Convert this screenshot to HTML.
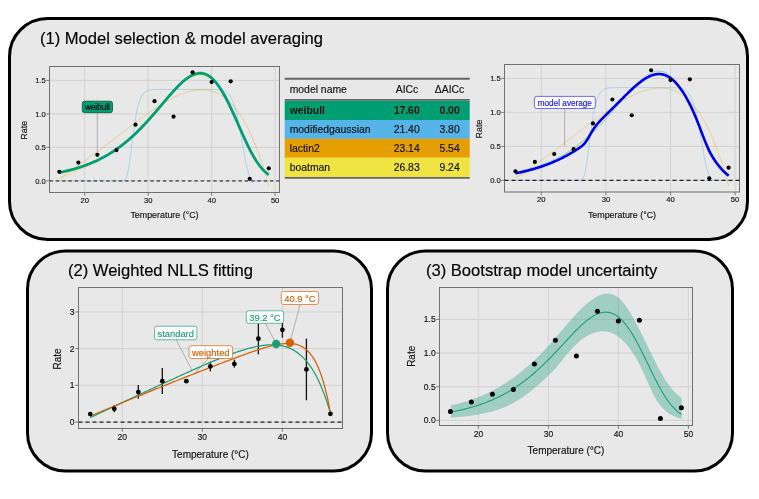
<!DOCTYPE html>
<html><head><meta charset="utf-8"><style>
html,body{margin:0;padding:0;background:#fff;width:759px;height:499px;overflow:hidden}
svg{display:block;will-change:transform}
text{font-family:"Liberation Sans", sans-serif}
</style></head><body>
<svg width="759" height="499" viewBox="0 0 759 499">
<rect x="9.5" y="18.5" width="738" height="221" rx="38" ry="38" fill="#e8e8e8" stroke="#000" stroke-width="3"/>
<rect x="27.5" y="251.0" width="344" height="220.0" rx="38" ry="38" fill="#e8e8e8" stroke="#000" stroke-width="3"/>
<rect x="387.5" y="251.0" width="345" height="220.0" rx="38" ry="38" fill="#e8e8e8" stroke="#000" stroke-width="3"/>
<text x="39.9" y="43.9" font-size="16.6" text-anchor="start" fill="#000" font-weight="normal" stroke="#000" stroke-width="0.15" >(1) Model selection &amp; model averaging</text>
<text x="67.9" y="275.8" font-size="16.6" text-anchor="start" fill="#000" font-weight="normal" stroke="#000" stroke-width="0.15" >(2) Weighted NLLS fitting</text>
<text x="425.9" y="275.8" font-size="16.6" text-anchor="start" fill="#000" font-weight="normal" stroke="#000" stroke-width="0.15" >(3) Bootstrap model uncertainty</text>
<defs>
<clipPath id="cpA"><rect x="49.5" y="66.5" width="230" height="126"/></clipPath>
<clipPath id="cpB"><rect x="504.5" y="64.5" width="235" height="127.5"/></clipPath>
</defs>
<rect x="49.5" y="66.5" width="230.0" height="126.0" fill="#e8e8e8"/>
<line x1="84.70" y1="66.5" x2="84.70" y2="192.5" stroke="#cfcfcf" stroke-width="0.9"/>
<line x1="148.17" y1="66.5" x2="148.17" y2="192.5" stroke="#cfcfcf" stroke-width="0.9"/>
<line x1="211.64" y1="66.5" x2="211.64" y2="192.5" stroke="#cfcfcf" stroke-width="0.9"/>
<line x1="275.11" y1="66.5" x2="275.11" y2="192.5" stroke="#cfcfcf" stroke-width="0.9"/>
<line x1="49.5" y1="180.80" x2="279.5" y2="180.80" stroke="#cfcfcf" stroke-width="0.9"/>
<line x1="49.5" y1="147.34" x2="279.5" y2="147.34" stroke="#cfcfcf" stroke-width="0.9"/>
<line x1="49.5" y1="113.87" x2="279.5" y2="113.87" stroke="#cfcfcf" stroke-width="0.9"/>
<line x1="49.5" y1="80.41" x2="279.5" y2="80.41" stroke="#cfcfcf" stroke-width="0.9"/>
<rect x="49.5" y="66.5" width="230.0" height="126.0" fill="none" stroke="#707070" stroke-width="1"/>
<line x1="84.70" y1="192.5" x2="84.70" y2="195.8" stroke="#707070" stroke-width="0.9"/>
<text x="84.70" y="202.80" font-size="7.6" text-anchor="middle" fill="#111" font-weight="normal" stroke="#111" stroke-width="0.15" >20</text>
<line x1="148.17" y1="192.5" x2="148.17" y2="195.8" stroke="#707070" stroke-width="0.9"/>
<text x="148.17" y="202.80" font-size="7.6" text-anchor="middle" fill="#111" font-weight="normal" stroke="#111" stroke-width="0.15" >30</text>
<line x1="211.64" y1="192.5" x2="211.64" y2="195.8" stroke="#707070" stroke-width="0.9"/>
<text x="211.64" y="202.80" font-size="7.6" text-anchor="middle" fill="#111" font-weight="normal" stroke="#111" stroke-width="0.15" >40</text>
<line x1="275.11" y1="192.5" x2="275.11" y2="195.8" stroke="#707070" stroke-width="0.9"/>
<text x="275.11" y="202.80" font-size="7.6" text-anchor="middle" fill="#111" font-weight="normal" stroke="#111" stroke-width="0.15" >50</text>
<line x1="46.2" y1="180.80" x2="49.5" y2="180.80" stroke="#707070" stroke-width="0.9"/>
<text x="45.70" y="183.50" font-size="7.6" text-anchor="end" fill="#111" font-weight="normal" stroke="#111" stroke-width="0.15" >0.0</text>
<line x1="46.2" y1="147.34" x2="49.5" y2="147.34" stroke="#707070" stroke-width="0.9"/>
<text x="45.70" y="150.03" font-size="7.6" text-anchor="end" fill="#111" font-weight="normal" stroke="#111" stroke-width="0.15" >0.5</text>
<line x1="46.2" y1="113.87" x2="49.5" y2="113.87" stroke="#707070" stroke-width="0.9"/>
<text x="45.70" y="116.57" font-size="7.6" text-anchor="end" fill="#111" font-weight="normal" stroke="#111" stroke-width="0.15" >1.0</text>
<line x1="46.2" y1="80.41" x2="49.5" y2="80.41" stroke="#707070" stroke-width="0.9"/>
<text x="45.70" y="83.11" font-size="7.6" text-anchor="end" fill="#111" font-weight="normal" stroke="#111" stroke-width="0.15" >1.5</text>
<text x="164.50" y="218.0" font-size="8.9" text-anchor="middle" fill="#111" font-weight="normal" stroke="#111" stroke-width="0.15" >Temperature (°C)</text>
<text x="0" y="0" font-size="8.9" text-anchor="middle" fill="#111" stroke="#111" stroke-width="0.15" transform="translate(26.9,130.30) rotate(-90)">Rate</text>
<path d="M59.31,180.80 L59.84,180.80 L60.36,180.80 L60.89,180.80 L61.41,180.80 L61.94,180.80 L62.46,180.80 L62.99,180.80 L63.51,180.80 L64.04,180.80 L64.56,180.80 L65.09,180.80 L65.61,180.80 L66.14,180.80 L66.66,180.80 L67.19,180.80 L67.71,180.80 L68.24,180.80 L68.76,180.80 L69.29,180.80 L69.81,180.80 L70.34,180.80 L70.86,180.80 L71.39,180.80 L71.91,180.80 L72.44,180.80 L72.96,180.80 L73.49,180.80 L74.01,180.80 L74.54,180.80 L75.06,180.80 L75.59,180.80 L76.11,180.80 L76.64,180.80 L77.16,180.80 L77.68,180.80 L78.21,180.80 L78.73,180.80 L79.26,180.80 L79.78,180.80 L80.31,180.80 L80.83,180.80 L81.36,180.80 L81.88,180.80 L82.41,180.80 L82.93,180.80 L83.46,180.80 L83.98,180.80 L84.51,180.80 L85.03,180.80 L85.56,180.80 L86.08,180.80 L86.61,180.80 L87.13,180.80 L87.66,180.80 L88.18,180.80 L88.71,180.80 L89.23,180.80 L89.76,180.80 L90.28,180.80 L90.81,180.80 L91.33,180.80 L91.86,180.80 L92.38,180.80 L92.91,180.80 L93.43,180.80 L93.96,180.80 L94.48,180.80 L95.01,180.80 L95.53,180.80 L96.06,180.80 L96.58,180.80 L97.11,180.80 L97.63,180.80 L98.16,180.80 L98.68,180.80 L99.21,180.80 L99.73,180.80 L100.26,180.80 L100.78,180.80 L101.31,180.80 L101.83,180.80 L102.36,180.80 L102.88,180.80 L103.41,180.80 L103.93,180.80 L104.46,180.80 L104.98,180.80 L105.51,180.80 L106.03,180.80 L106.56,180.80 L107.08,180.80 L107.61,180.80 L108.13,180.80 L108.66,180.80 L109.18,180.80 L109.71,180.80 L110.23,180.80 L110.76,180.80 L111.28,180.80 L111.81,180.80 L112.33,180.80 L112.86,180.80 L113.38,180.80 L113.91,180.80 L114.43,180.80 L114.96,180.80 L115.48,180.80 L116.01,180.80 L116.53,180.80 L117.06,180.80 L117.58,180.80 L118.11,180.80 L118.63,180.80 L119.16,180.80 L119.68,180.80 L120.21,180.80 L120.73,180.80 L121.25,180.79 L121.78,180.78 L122.30,180.76 L122.83,180.70 L123.35,180.61 L123.88,180.43 L124.40,180.15 L124.93,179.71 L125.45,179.06 L125.98,178.15 L126.50,176.93 L127.03,175.35 L127.55,173.39 L128.08,171.04 L128.60,168.30 L129.13,165.20 L129.65,161.77 L130.18,158.07 L130.70,154.15 L131.23,150.08 L131.75,145.93 L132.28,141.76 L132.80,137.63 L133.33,133.59 L133.85,129.69 L134.38,125.95 L134.90,122.42 L135.43,119.09 L135.95,116.00 L136.48,113.13 L137.00,110.50 L137.53,108.10 L138.05,105.92 L138.58,103.94 L139.10,102.17 L139.63,100.58 L140.15,99.17 L140.68,97.91 L141.20,96.79 L141.73,95.81 L142.25,94.94 L142.78,94.19 L143.30,93.52 L143.83,92.94 L144.35,92.44 L144.88,92.00 L145.40,91.63 L145.93,91.30 L146.45,91.02 L146.98,90.78 L147.50,90.57 L148.03,90.39 L148.55,90.24 L149.08,90.11 L149.60,90.00 L150.13,89.91 L150.65,89.83 L151.18,89.76 L151.70,89.71 L152.23,89.66 L152.75,89.62 L153.28,89.59 L153.80,89.56 L154.33,89.54 L154.85,89.52 L155.38,89.51 L155.90,89.49 L156.43,89.48 L156.95,89.48 L157.48,89.47 L158.00,89.46 L158.53,89.46 L159.05,89.45 L159.58,89.45 L160.10,89.45 L160.63,89.45 L161.15,89.45 L161.68,89.44 L162.20,89.44 L162.73,89.44 L163.25,89.44 L163.78,89.44 L164.30,89.44 L164.82,89.44 L165.35,89.44 L165.87,89.44 L166.40,89.44 L166.92,89.44 L167.45,89.44 L167.97,89.44 L168.50,89.44 L169.02,89.44 L169.55,89.44 L170.07,89.44 L170.60,89.44 L171.12,89.44 L171.65,89.44 L172.17,89.44 L172.70,89.44 L173.22,89.44 L173.75,89.44 L174.27,89.44 L174.80,89.44 L175.32,89.44 L175.85,89.44 L176.37,89.44 L176.90,89.44 L177.42,89.44 L177.95,89.44 L178.47,89.44 L179.00,89.44 L179.52,89.44 L180.05,89.44 L180.57,89.44 L181.10,89.44 L181.62,89.44 L182.15,89.44 L182.67,89.44 L183.20,89.44 L183.72,89.44 L184.25,89.44 L184.77,89.44 L185.30,89.44 L185.82,89.44 L186.35,89.44 L186.87,89.44 L187.40,89.44 L187.92,89.44 L188.45,89.44 L188.97,89.44 L189.50,89.44 L190.02,89.44 L190.55,89.44 L191.07,89.44 L191.60,89.44 L192.12,89.44 L192.65,89.44 L193.17,89.44 L193.70,89.44 L194.22,89.44 L194.75,89.44 L195.27,89.44 L195.80,89.44 L196.32,89.44 L196.85,89.44 L197.37,89.44 L197.90,89.44 L198.42,89.44 L198.95,89.44 L199.47,89.44 L200.00,89.44 L200.52,89.44 L201.05,89.44 L201.57,89.44 L202.10,89.44 L202.62,89.44 L203.15,89.44 L203.67,89.44 L204.20,89.44 L204.72,89.44 L205.25,89.44 L205.77,89.44 L206.30,89.44 L206.82,89.44 L207.35,89.44 L207.87,89.45 L208.39,89.45 L208.92,89.45 L209.44,89.45 L209.97,89.45 L210.49,89.46 L211.02,89.46 L211.54,89.47 L212.07,89.47 L212.59,89.48 L213.12,89.49 L213.64,89.50 L214.17,89.51 L214.69,89.53 L215.22,89.54 L215.74,89.56 L216.27,89.59 L216.79,89.62 L217.32,89.65 L217.84,89.69 L218.37,89.74 L218.89,89.79 L219.42,89.86 L219.94,89.93 L220.47,90.01 L220.99,90.11 L221.52,90.22 L222.04,90.34 L222.57,90.49 L223.09,90.65 L223.62,90.84 L224.14,91.05 L224.67,91.29 L225.19,91.55 L225.72,91.86 L226.24,92.20 L226.77,92.58 L227.29,93.00 L227.82,93.48 L228.34,94.01 L228.87,94.59 L229.39,95.25 L229.92,95.97 L230.44,96.76 L230.97,97.64 L231.49,98.60 L232.02,99.65 L232.54,100.81 L233.07,102.06 L233.59,103.42 L234.12,104.90 L234.64,106.50 L235.17,108.21 L235.69,110.06 L236.22,112.03 L236.74,114.13 L237.27,116.36 L237.79,118.71 L238.32,121.19 L238.84,123.79 L239.37,126.49 L239.89,129.30 L240.42,132.20 L240.94,135.16 L241.47,138.19 L241.99,141.25 L242.52,144.32 L243.04,147.39 L243.57,150.43 L244.09,153.41 L244.62,156.31 L245.14,159.10 L245.67,161.76 L246.19,164.27 L246.72,166.61 L247.24,168.76 L247.77,170.72 L248.29,172.48 L248.82,174.03 L249.34,175.37 L249.87,176.52 L250.39,177.49 L250.92,178.29 L251.44,178.93 L251.96,179.44 L252.49,179.83 L253.01,180.13 L253.54,180.34 L254.06,180.50 L254.59,180.61 L255.11,180.68 L255.64,180.73 L256.16,180.76 L256.69,180.78 L257.21,180.79 L257.74,180.79 L258.26,180.80 L258.79,180.80 L259.31,180.80 L259.84,180.80 L260.36,180.80 L260.89,180.80 L261.41,180.80 L261.94,180.80 L262.46,180.80 L262.99,180.80 L263.51,180.80 L264.04,180.80 L264.56,180.80 L265.09,180.80 L265.61,180.80 L266.14,180.80 L266.66,180.80 L267.19,180.80 L267.71,180.80 L268.24,180.80 L268.76,180.80" fill="none" stroke="#56B4E9" stroke-width="0.9" stroke-opacity="0.45" stroke-linejoin="round" clip-path="url(#cpA)"/>
<path d="M59.31,178.63 L60.36,177.93 L61.42,177.24 L62.47,176.54 L63.52,175.83 L64.57,175.12 L65.63,174.41 L66.68,173.70 L67.73,172.98 L68.78,172.26 L69.84,171.54 L70.89,170.81 L71.94,170.08 L72.99,169.34 L74.05,168.61 L75.10,167.87 L76.15,167.13 L77.20,166.38 L78.26,165.63 L79.31,164.88 L80.36,164.13 L81.41,163.37 L82.47,162.61 L83.52,161.85 L84.57,161.08 L85.62,160.32 L86.68,159.55 L87.73,158.77 L88.78,158.00 L89.84,157.22 L90.89,156.44 L91.94,155.66 L92.99,154.87 L94.05,154.09 L95.10,153.30 L96.15,152.51 L97.20,151.72 L98.26,150.92 L99.31,150.13 L100.36,149.33 L101.41,148.53 L102.47,147.73 L103.52,146.93 L104.57,146.13 L105.62,145.32 L106.68,144.52 L107.73,143.71 L108.78,142.90 L109.83,142.10 L110.89,141.29 L111.94,140.48 L112.99,139.67 L114.04,138.86 L115.10,138.04 L116.15,137.23 L117.20,136.42 L118.25,135.61 L119.31,134.80 L120.36,133.99 L121.41,133.18 L122.46,132.37 L123.52,131.56 L124.57,130.75 L125.62,129.95 L126.67,129.14 L127.73,128.34 L128.78,127.53 L129.83,126.73 L130.88,125.93 L131.94,125.14 L132.99,124.34 L134.04,123.55 L135.09,122.76 L136.15,121.97 L137.20,121.18 L138.25,120.40 L139.30,119.62 L140.36,118.85 L141.41,118.08 L142.46,117.31 L143.51,116.55 L144.57,115.79 L145.62,115.03 L146.67,114.28 L147.72,113.54 L148.78,112.80 L149.83,112.07 L150.88,111.34 L151.93,110.62 L152.99,109.90 L154.04,109.19 L155.09,108.49 L156.14,107.79 L157.20,107.11 L158.25,106.43 L159.30,105.76 L160.35,105.09 L161.41,104.44 L162.46,103.79 L163.51,103.15 L164.56,102.53 L165.62,101.91 L166.67,101.30 L167.72,100.71 L168.77,100.12 L169.83,99.55 L170.88,98.99 L171.93,98.44 L172.98,97.90 L174.04,97.37 L175.09,96.86 L176.14,96.37 L177.19,95.88 L178.25,95.41 L179.30,94.96 L180.35,94.52 L181.40,94.10 L182.46,93.69 L183.51,93.31 L184.56,92.93 L185.61,92.58 L186.67,92.25 L187.72,91.93 L188.77,91.63 L189.82,91.36 L190.88,91.10 L191.93,90.86 L192.98,90.65 L194.03,90.46 L195.09,90.29 L196.14,90.14 L197.19,90.02 L198.24,89.93 L199.30,89.85 L200.35,89.81 L201.40,89.79 L202.45,89.80 L203.51,89.83 L204.56,89.90 L205.61,89.99 L206.66,90.12 L207.72,90.27 L208.77,90.46 L209.82,90.68 L210.87,90.93 L211.93,91.22 L212.98,91.54 L214.03,91.89 L215.08,92.29 L216.14,92.72 L217.19,93.18 L218.24,93.69 L219.29,94.24 L220.35,94.83 L221.40,95.46 L222.45,96.13 L223.50,96.84 L224.56,97.60 L225.61,98.41 L226.66,99.26 L227.71,100.16 L228.77,101.11 L229.82,102.11 L230.87,103.16 L231.92,104.27 L232.98,105.42 L234.03,106.63 L235.08,107.90 L236.13,109.22 L237.19,110.60 L238.24,112.04 L239.29,113.54 L240.35,115.11 L241.40,116.73 L242.45,118.42 L243.50,120.18 L244.56,122.00 L245.61,123.89 L246.66,125.86 L247.71,127.89 L248.77,130.00 L249.82,132.18 L250.87,134.44 L251.92,136.77 L252.98,139.19 L254.03,141.68 L255.08,144.26 L256.13,146.92 L257.19,149.67 L258.24,152.51 L259.29,155.44 L260.34,158.45 L261.40,161.56 L262.45,164.77 L263.50,168.07 L264.55,171.47 L265.61,174.98 L266.66,178.58 L267.71,182.29 L268.76,186.11" fill="none" stroke="#E69F00" stroke-width="0.9" stroke-opacity="0.4" stroke-linejoin="round" clip-path="url(#cpA)"/>
<path d="M59.31,178.59 L60.36,178.10 L61.42,177.61 L62.47,177.13 L63.52,176.66 L64.57,176.19 L65.63,175.73 L66.68,175.27 L67.73,174.82 L68.78,174.36 L69.84,173.91 L70.89,173.46 L71.94,173.02 L72.99,172.57 L74.05,172.12 L75.10,171.67 L76.15,171.23 L77.20,170.78 L78.26,170.32 L79.31,169.87 L80.36,169.41 L81.41,168.95 L82.47,168.49 L83.52,168.02 L84.57,167.55 L85.62,167.07 L86.68,166.59 L87.73,166.10 L88.78,165.60 L89.84,165.10 L90.89,164.59 L91.94,164.07 L92.99,163.54 L94.05,163.01 L95.10,162.47 L96.15,161.91 L97.20,161.35 L98.26,160.78 L99.31,160.20 L100.36,159.61 L101.41,159.00 L102.47,158.39 L103.52,157.76 L104.57,157.12 L105.62,156.47 L106.68,155.81 L107.73,155.13 L108.78,154.44 L109.83,153.74 L110.89,153.02 L111.94,152.29 L112.99,151.55 L114.04,150.79 L115.10,150.01 L116.15,149.22 L117.20,148.42 L118.25,147.60 L119.31,146.76 L120.36,145.91 L121.41,145.05 L122.46,144.17 L123.52,143.28 L124.57,142.37 L125.62,141.44 L126.67,140.50 L127.73,139.55 L128.78,138.58 L129.83,137.59 L130.88,136.60 L131.94,135.59 L132.99,134.56 L134.04,133.53 L135.09,132.48 L136.15,131.42 L137.20,130.35 L138.25,129.26 L139.30,128.17 L140.36,127.06 L141.41,125.95 L142.46,124.83 L143.51,123.70 L144.57,122.56 L145.62,121.41 L146.67,120.26 L147.72,119.10 L148.78,117.94 L149.83,116.78 L150.88,115.61 L151.93,114.44 L152.99,113.26 L154.04,112.09 L155.09,110.91 L156.14,109.73 L157.20,108.56 L158.25,107.39 L159.30,106.22 L160.35,105.05 L161.41,103.89 L162.46,102.73 L163.51,101.58 L164.56,100.44 L165.62,99.30 L166.67,98.17 L167.72,97.06 L168.77,95.95 L169.83,94.85 L170.88,93.77 L171.93,92.70 L172.98,91.65 L174.04,90.62 L175.09,89.60 L176.14,88.60 L177.19,87.62 L178.25,86.67 L179.30,85.73 L180.35,84.83 L181.40,83.95 L182.46,83.10 L183.51,82.28 L184.56,81.49 L185.61,80.74 L186.67,80.03 L187.72,79.35 L188.77,78.72 L189.82,78.13 L190.88,77.59 L191.93,77.09 L192.98,76.65 L194.03,76.26 L195.09,75.92 L196.14,75.64 L197.19,75.43 L198.24,75.27 L199.30,75.18 L200.35,75.16 L201.40,75.21 L202.45,75.33 L203.51,75.52 L204.56,75.79 L205.61,76.14 L206.66,76.57 L207.72,77.07 L208.77,77.66 L209.82,78.34 L210.87,79.10 L211.93,79.94 L212.98,80.87 L214.03,81.88 L215.08,82.98 L216.14,84.16 L217.19,85.43 L218.24,86.79 L219.29,88.22 L220.35,89.74 L221.40,91.33 L222.45,93.01 L223.50,94.75 L224.56,96.57 L225.61,98.46 L226.66,100.41 L227.71,102.42 L228.77,104.49 L229.82,106.62 L230.87,108.79 L231.92,111.00 L232.98,113.25 L234.03,115.53 L235.08,117.84 L236.13,120.17 L237.19,122.52 L238.24,124.87 L239.29,127.23 L240.35,129.58 L241.40,131.93 L242.45,134.26 L243.50,136.57 L244.56,138.85 L245.61,141.10 L246.66,143.31 L247.71,145.48 L248.77,147.60 L249.82,149.67 L250.87,151.68 L251.92,153.63 L252.98,155.51 L254.03,157.33 L255.08,159.07 L256.13,160.74 L257.19,162.34 L258.24,163.85 L259.29,165.29 L260.34,166.66 L261.40,167.94 L262.45,169.14 L263.50,170.27 L264.55,171.32 L265.61,172.30 L266.66,173.20 L267.71,174.03 L268.76,174.80" fill="none" stroke="#E8D84A" stroke-width="0.9" stroke-opacity="0.7" stroke-linejoin="round" clip-path="url(#cpA)"/>
<line x1="49.5" y1="180.80" x2="279.5" y2="180.80" stroke="#666" stroke-width="1.7" stroke-dasharray="3.4,2.9"/>
<line x1="97.3" y1="112.7" x2="97.39" y2="152.83" stroke="#888" stroke-width="0.6"/>
<path d="M59.31,172.57 L60.36,172.36 L61.42,172.14 L62.47,171.91 L63.52,171.68 L64.57,171.44 L65.63,171.20 L66.68,170.95 L67.73,170.70 L68.78,170.44 L69.84,170.17 L70.89,169.90 L71.94,169.61 L72.99,169.33 L74.05,169.03 L75.10,168.73 L76.15,168.42 L77.20,168.10 L78.26,167.78 L79.31,167.45 L80.36,167.11 L81.41,166.76 L82.47,166.40 L83.52,166.03 L84.57,165.66 L85.62,165.28 L86.68,164.88 L87.73,164.48 L88.78,164.07 L89.84,163.65 L90.89,163.22 L91.94,162.78 L92.99,162.33 L94.05,161.87 L95.10,161.40 L96.15,160.91 L97.20,160.42 L98.26,159.92 L99.31,159.40 L100.36,158.87 L101.41,158.34 L102.47,157.78 L103.52,157.22 L104.57,156.65 L105.62,156.06 L106.68,155.46 L107.73,154.85 L108.78,154.22 L109.83,153.58 L110.89,152.93 L111.94,152.26 L112.99,151.58 L114.04,150.89 L115.10,150.18 L116.15,149.46 L117.20,148.72 L118.25,147.97 L119.31,147.21 L120.36,146.43 L121.41,145.63 L122.46,144.82 L123.52,144.00 L124.57,143.16 L125.62,142.30 L126.67,141.43 L127.73,140.55 L128.78,139.65 L129.83,138.73 L130.88,137.80 L131.94,136.85 L132.99,135.89 L134.04,134.92 L135.09,133.92 L136.15,132.92 L137.20,131.90 L138.25,130.86 L139.30,129.81 L140.36,128.75 L141.41,127.67 L142.46,126.58 L143.51,125.47 L144.57,124.35 L145.62,123.22 L146.67,122.08 L147.72,120.93 L148.78,119.76 L149.83,118.58 L150.88,117.40 L151.93,116.20 L152.99,115.00 L154.04,113.78 L155.09,112.56 L156.14,111.33 L157.20,110.10 L158.25,108.86 L159.30,107.62 L160.35,106.38 L161.41,105.13 L162.46,103.88 L163.51,102.64 L164.56,101.39 L165.62,100.15 L166.67,98.92 L167.72,97.69 L168.77,96.46 L169.83,95.25 L170.88,94.05 L171.93,92.86 L172.98,91.68 L174.04,90.52 L175.09,89.38 L176.14,88.26 L177.19,87.16 L178.25,86.09 L179.30,85.04 L180.35,84.02 L181.40,83.03 L182.46,82.08 L183.51,81.15 L184.56,80.27 L185.61,79.43 L186.67,78.63 L187.72,77.87 L188.77,77.16 L189.82,76.51 L190.88,75.90 L191.93,75.35 L192.98,74.86 L194.03,74.42 L195.09,74.05 L196.14,73.75 L197.19,73.51 L198.24,73.34 L199.30,73.24 L200.35,73.21 L201.40,73.26 L202.45,73.39 L203.51,73.60 L204.56,73.89 L205.61,74.26 L206.66,74.71 L207.72,75.25 L208.77,75.88 L209.82,76.59 L210.87,77.39 L211.93,78.28 L212.98,79.26 L214.03,80.32 L215.08,81.47 L216.14,82.71 L217.19,84.04 L218.24,85.44 L219.29,86.94 L220.35,88.51 L221.40,90.16 L222.45,91.89 L223.50,93.69 L224.56,95.56 L225.61,97.50 L226.66,99.51 L227.71,101.57 L228.77,103.69 L229.82,105.86 L230.87,108.08 L231.92,110.33 L232.98,112.63 L234.03,114.95 L235.08,117.30 L236.13,119.67 L237.19,122.05 L238.24,124.44 L239.29,126.83 L240.35,129.22 L241.40,131.59 L242.45,133.95 L243.50,136.28 L244.56,138.59 L245.61,140.86 L246.66,143.09 L247.71,145.28 L248.77,147.42 L249.82,149.51 L250.87,151.53 L251.92,153.49 L252.98,155.39 L254.03,157.22 L255.08,158.97 L256.13,160.65 L257.19,162.26 L258.24,163.78 L259.29,165.23 L260.34,166.60 L261.40,167.89 L262.45,169.10 L263.50,170.23 L264.55,171.29 L265.61,172.27 L266.66,173.17 L267.71,174.01 L268.76,174.78" fill="none" stroke="#009E73" stroke-width="2.8" stroke-opacity="1" stroke-linejoin="round"/>
<circle cx="59.31" cy="171.83" r="2.1" fill="#000"/>
<circle cx="78.35" cy="162.60" r="2.1" fill="#000"/>
<circle cx="97.39" cy="154.83" r="2.1" fill="#000"/>
<circle cx="116.44" cy="150.08" r="2.1" fill="#000"/>
<circle cx="135.48" cy="124.71" r="2.1" fill="#000"/>
<circle cx="154.52" cy="101.15" r="2.1" fill="#000"/>
<circle cx="173.56" cy="116.68" r="2.1" fill="#000"/>
<circle cx="192.60" cy="72.37" r="2.1" fill="#000"/>
<circle cx="211.64" cy="82.08" r="2.1" fill="#000"/>
<circle cx="230.68" cy="81.28" r="2.1" fill="#000"/>
<circle cx="249.72" cy="178.79" r="2.1" fill="#000"/>
<circle cx="268.76" cy="168.28" r="2.1" fill="#000"/>
<rect x="82.3" y="101.2" width="30.200000000000003" height="11.5" rx="2.2" ry="2.2" fill="#009E73" stroke="#00573f" stroke-width="0.9" stroke-opacity="0.9"/>
<text x="97.40" y="109.95" font-size="8.2" text-anchor="middle" fill="#000" font-weight="normal" stroke="#000" stroke-width="0.15" >weibull</text>
<rect x="504.5" y="64.5" width="235.0" height="127.5" fill="#e8e8e8"/>
<line x1="541.30" y1="64.5" x2="541.30" y2="192" stroke="#cfcfcf" stroke-width="0.9"/>
<line x1="605.90" y1="64.5" x2="605.90" y2="192" stroke="#cfcfcf" stroke-width="0.9"/>
<line x1="670.50" y1="64.5" x2="670.50" y2="192" stroke="#cfcfcf" stroke-width="0.9"/>
<line x1="735.10" y1="64.5" x2="735.10" y2="192" stroke="#cfcfcf" stroke-width="0.9"/>
<line x1="504.5" y1="180.40" x2="739.5" y2="180.40" stroke="#cfcfcf" stroke-width="0.9"/>
<line x1="504.5" y1="146.40" x2="739.5" y2="146.40" stroke="#cfcfcf" stroke-width="0.9"/>
<line x1="504.5" y1="112.40" x2="739.5" y2="112.40" stroke="#cfcfcf" stroke-width="0.9"/>
<line x1="504.5" y1="78.40" x2="739.5" y2="78.40" stroke="#cfcfcf" stroke-width="0.9"/>
<rect x="504.5" y="64.5" width="235.0" height="127.5" fill="none" stroke="#707070" stroke-width="1"/>
<line x1="541.30" y1="192" x2="541.30" y2="195.3" stroke="#707070" stroke-width="0.9"/>
<text x="541.30" y="202.30" font-size="7.6" text-anchor="middle" fill="#111" font-weight="normal" stroke="#111" stroke-width="0.15" >20</text>
<line x1="605.90" y1="192" x2="605.90" y2="195.3" stroke="#707070" stroke-width="0.9"/>
<text x="605.90" y="202.30" font-size="7.6" text-anchor="middle" fill="#111" font-weight="normal" stroke="#111" stroke-width="0.15" >30</text>
<line x1="670.50" y1="192" x2="670.50" y2="195.3" stroke="#707070" stroke-width="0.9"/>
<text x="670.50" y="202.30" font-size="7.6" text-anchor="middle" fill="#111" font-weight="normal" stroke="#111" stroke-width="0.15" >40</text>
<line x1="735.10" y1="192" x2="735.10" y2="195.3" stroke="#707070" stroke-width="0.9"/>
<text x="735.10" y="202.30" font-size="7.6" text-anchor="middle" fill="#111" font-weight="normal" stroke="#111" stroke-width="0.15" >50</text>
<line x1="501.2" y1="180.40" x2="504.5" y2="180.40" stroke="#707070" stroke-width="0.9"/>
<text x="500.70" y="183.10" font-size="7.6" text-anchor="end" fill="#111" font-weight="normal" stroke="#111" stroke-width="0.15" >0.0</text>
<line x1="501.2" y1="146.40" x2="504.5" y2="146.40" stroke="#707070" stroke-width="0.9"/>
<text x="500.70" y="149.10" font-size="7.6" text-anchor="end" fill="#111" font-weight="normal" stroke="#111" stroke-width="0.15" >0.5</text>
<line x1="501.2" y1="112.40" x2="504.5" y2="112.40" stroke="#707070" stroke-width="0.9"/>
<text x="500.70" y="115.10" font-size="7.6" text-anchor="end" fill="#111" font-weight="normal" stroke="#111" stroke-width="0.15" >1.0</text>
<line x1="501.2" y1="78.40" x2="504.5" y2="78.40" stroke="#707070" stroke-width="0.9"/>
<text x="500.70" y="81.10" font-size="7.6" text-anchor="end" fill="#111" font-weight="normal" stroke="#111" stroke-width="0.15" >1.5</text>
<text x="622.00" y="218.0" font-size="8.9" text-anchor="middle" fill="#111" font-weight="normal" stroke="#111" stroke-width="0.15" >Temperature (°C)</text>
<text x="0" y="0" font-size="8.9" text-anchor="middle" fill="#111" stroke="#111" stroke-width="0.15" transform="translate(481.9,129.05) rotate(-90)">Rate</text>
<path d="M515.46,180.40 L515.99,180.40 L516.53,180.40 L517.06,180.40 L517.60,180.40 L518.13,180.40 L518.67,180.40 L519.20,180.40 L519.73,180.40 L520.27,180.40 L520.80,180.40 L521.34,180.40 L521.87,180.40 L522.41,180.40 L522.94,180.40 L523.47,180.40 L524.01,180.40 L524.54,180.40 L525.08,180.40 L525.61,180.40 L526.15,180.40 L526.68,180.40 L527.21,180.40 L527.75,180.40 L528.28,180.40 L528.82,180.40 L529.35,180.40 L529.89,180.40 L530.42,180.40 L530.95,180.40 L531.49,180.40 L532.02,180.40 L532.56,180.40 L533.09,180.40 L533.63,180.40 L534.16,180.40 L534.69,180.40 L535.23,180.40 L535.76,180.40 L536.30,180.40 L536.83,180.40 L537.37,180.40 L537.90,180.40 L538.43,180.40 L538.97,180.40 L539.50,180.40 L540.04,180.40 L540.57,180.40 L541.11,180.40 L541.64,180.40 L542.17,180.40 L542.71,180.40 L543.24,180.40 L543.78,180.40 L544.31,180.40 L544.85,180.40 L545.38,180.40 L545.91,180.40 L546.45,180.40 L546.98,180.40 L547.52,180.40 L548.05,180.40 L548.59,180.40 L549.12,180.40 L549.65,180.40 L550.19,180.40 L550.72,180.40 L551.26,180.40 L551.79,180.40 L552.33,180.40 L552.86,180.40 L553.39,180.40 L553.93,180.40 L554.46,180.40 L555.00,180.40 L555.53,180.40 L556.07,180.40 L556.60,180.40 L557.13,180.40 L557.67,180.40 L558.20,180.40 L558.74,180.40 L559.27,180.40 L559.81,180.40 L560.34,180.40 L560.87,180.40 L561.41,180.40 L561.94,180.40 L562.48,180.40 L563.01,180.40 L563.55,180.40 L564.08,180.40 L564.61,180.40 L565.15,180.40 L565.68,180.40 L566.22,180.40 L566.75,180.40 L567.29,180.40 L567.82,180.40 L568.35,180.40 L568.89,180.40 L569.42,180.40 L569.96,180.40 L570.49,180.40 L571.03,180.40 L571.56,180.40 L572.09,180.40 L572.63,180.40 L573.16,180.40 L573.70,180.40 L574.23,180.40 L574.77,180.40 L575.30,180.40 L575.83,180.40 L576.37,180.40 L576.90,180.40 L577.44,180.40 L577.97,180.40 L578.51,180.39 L579.04,180.38 L579.57,180.35 L580.11,180.30 L580.64,180.20 L581.18,180.03 L581.71,179.74 L582.25,179.29 L582.78,178.63 L583.31,177.71 L583.85,176.46 L584.38,174.86 L584.92,172.88 L585.45,170.49 L585.99,167.70 L586.52,164.55 L587.05,161.07 L587.59,157.30 L588.12,153.32 L588.66,149.19 L589.19,144.97 L589.73,140.74 L590.26,136.54 L590.79,132.44 L591.33,128.47 L591.86,124.68 L592.40,121.08 L592.93,117.71 L593.47,114.56 L594.00,111.65 L594.53,108.98 L595.07,106.54 L595.60,104.32 L596.14,102.32 L596.67,100.51 L597.21,98.90 L597.74,97.46 L598.27,96.18 L598.81,95.05 L599.34,94.05 L599.88,93.17 L600.41,92.40 L600.95,91.73 L601.48,91.14 L602.01,90.63 L602.55,90.18 L603.08,89.80 L603.62,89.47 L604.15,89.18 L604.69,88.94 L605.22,88.73 L605.75,88.55 L606.29,88.39 L606.82,88.26 L607.36,88.15 L607.89,88.06 L608.43,87.98 L608.96,87.91 L609.49,87.85 L610.03,87.81 L610.56,87.77 L611.10,87.73 L611.63,87.71 L612.17,87.68 L612.70,87.66 L613.23,87.65 L613.77,87.63 L614.30,87.62 L614.84,87.62 L615.37,87.61 L615.91,87.60 L616.44,87.60 L616.97,87.59 L617.51,87.59 L618.04,87.59 L618.58,87.59 L619.11,87.59 L619.65,87.58 L620.18,87.58 L620.71,87.58 L621.25,87.58 L621.78,87.58 L622.32,87.58 L622.85,87.58 L623.39,87.58 L623.92,87.58 L624.45,87.58 L624.99,87.58 L625.52,87.58 L626.06,87.58 L626.59,87.58 L627.13,87.58 L627.66,87.58 L628.19,87.58 L628.73,87.58 L629.26,87.58 L629.80,87.58 L630.33,87.58 L630.87,87.58 L631.40,87.58 L631.93,87.58 L632.47,87.58 L633.00,87.58 L633.54,87.58 L634.07,87.58 L634.61,87.58 L635.14,87.58 L635.67,87.58 L636.21,87.58 L636.74,87.58 L637.28,87.58 L637.81,87.58 L638.35,87.58 L638.88,87.58 L639.41,87.58 L639.95,87.58 L640.48,87.58 L641.02,87.58 L641.55,87.58 L642.09,87.58 L642.62,87.58 L643.15,87.58 L643.69,87.58 L644.22,87.58 L644.76,87.58 L645.29,87.58 L645.83,87.58 L646.36,87.58 L646.89,87.58 L647.43,87.58 L647.96,87.58 L648.50,87.58 L649.03,87.58 L649.57,87.58 L650.10,87.58 L650.63,87.58 L651.17,87.58 L651.70,87.58 L652.24,87.58 L652.77,87.58 L653.31,87.58 L653.84,87.58 L654.37,87.58 L654.91,87.58 L655.44,87.58 L655.98,87.58 L656.51,87.58 L657.05,87.58 L657.58,87.58 L658.11,87.58 L658.65,87.58 L659.18,87.58 L659.72,87.58 L660.25,87.58 L660.79,87.58 L661.32,87.58 L661.85,87.58 L662.39,87.58 L662.92,87.58 L663.46,87.58 L663.99,87.58 L664.53,87.58 L665.06,87.58 L665.59,87.58 L666.13,87.58 L666.66,87.58 L667.20,87.59 L667.73,87.59 L668.27,87.59 L668.80,87.59 L669.33,87.60 L669.87,87.60 L670.40,87.61 L670.94,87.61 L671.47,87.62 L672.01,87.63 L672.54,87.64 L673.07,87.65 L673.61,87.67 L674.14,87.68 L674.68,87.71 L675.21,87.73 L675.75,87.76 L676.28,87.80 L676.81,87.84 L677.35,87.88 L677.88,87.94 L678.42,88.00 L678.95,88.08 L679.49,88.16 L680.02,88.26 L680.55,88.37 L681.09,88.50 L681.62,88.64 L682.16,88.81 L682.69,89.00 L683.23,89.21 L683.76,89.45 L684.29,89.73 L684.83,90.03 L685.36,90.38 L685.90,90.77 L686.43,91.20 L686.97,91.68 L687.50,92.22 L688.03,92.82 L688.57,93.48 L689.10,94.21 L689.64,95.02 L690.17,95.91 L690.71,96.89 L691.24,97.96 L691.77,99.13 L692.31,100.40 L692.84,101.79 L693.38,103.29 L693.91,104.91 L694.45,106.65 L694.98,108.53 L695.51,110.53 L696.05,112.66 L696.58,114.93 L697.12,117.32 L697.65,119.84 L698.19,122.48 L698.72,125.23 L699.25,128.08 L699.79,131.02 L700.32,134.03 L700.86,137.10 L701.39,140.21 L701.93,143.34 L702.46,146.46 L702.99,149.54 L703.53,152.57 L704.06,155.52 L704.60,158.35 L705.13,161.06 L705.67,163.61 L706.20,165.98 L706.73,168.17 L707.27,170.16 L707.80,171.94 L708.34,173.52 L708.87,174.89 L709.41,176.06 L709.94,177.04 L710.47,177.85 L711.01,178.50 L711.54,179.01 L712.08,179.41 L712.61,179.71 L713.15,179.94 L713.68,180.09 L714.21,180.20 L714.75,180.28 L715.28,180.33 L715.82,180.36 L716.35,180.38 L716.89,180.39 L717.42,180.39 L717.95,180.40 L718.49,180.40 L719.02,180.40 L719.56,180.40 L720.09,180.40 L720.63,180.40 L721.16,180.40 L721.69,180.40 L722.23,180.40 L722.76,180.40 L723.30,180.40 L723.83,180.40 L724.37,180.40 L724.90,180.40 L725.43,180.40 L725.97,180.40 L726.50,180.40 L727.04,180.40 L727.57,180.40 L728.11,180.40 L728.64,180.40" fill="none" stroke="#56B4E9" stroke-width="0.9" stroke-opacity="0.45" stroke-linejoin="round" clip-path="url(#cpB)"/>
<path d="M515.46,178.19 L516.53,177.49 L517.60,176.78 L518.67,176.07 L519.75,175.35 L520.82,174.63 L521.89,173.91 L522.96,173.18 L524.03,172.46 L525.10,171.72 L526.17,170.99 L527.24,170.25 L528.32,169.51 L529.39,168.76 L530.46,168.01 L531.53,167.26 L532.60,166.51 L533.67,165.75 L534.74,164.99 L535.81,164.23 L536.89,163.46 L537.96,162.69 L539.03,161.92 L540.10,161.14 L541.17,160.37 L542.24,159.59 L543.31,158.81 L544.38,158.02 L545.46,157.23 L546.53,156.44 L547.60,155.65 L548.67,154.86 L549.74,154.06 L550.81,153.26 L551.88,152.46 L552.95,151.66 L554.03,150.85 L555.10,150.05 L556.17,149.24 L557.24,148.43 L558.31,147.62 L559.38,146.80 L560.45,145.99 L561.52,145.17 L562.60,144.36 L563.67,143.54 L564.74,142.72 L565.81,141.90 L566.88,141.08 L567.95,140.25 L569.02,139.43 L570.09,138.61 L571.17,137.79 L572.24,136.96 L573.31,136.14 L574.38,135.31 L575.45,134.49 L576.52,133.67 L577.59,132.84 L578.66,132.02 L579.74,131.20 L580.81,130.37 L581.88,129.55 L582.95,128.73 L584.02,127.91 L585.09,127.10 L586.16,126.28 L587.23,125.47 L588.31,124.66 L589.38,123.85 L590.45,123.04 L591.52,122.23 L592.59,121.43 L593.66,120.63 L594.73,119.83 L595.80,119.04 L596.88,118.25 L597.95,117.46 L599.02,116.67 L600.09,115.89 L601.16,115.12 L602.23,114.35 L603.30,113.58 L604.37,112.82 L605.45,112.06 L606.52,111.31 L607.59,110.57 L608.66,109.83 L609.73,109.09 L610.80,108.37 L611.87,107.65 L612.94,106.93 L614.02,106.23 L615.09,105.53 L616.16,104.84 L617.23,104.16 L618.30,103.48 L619.37,102.82 L620.44,102.16 L621.51,101.51 L622.59,100.88 L623.66,100.25 L624.73,99.63 L625.80,99.03 L626.87,98.43 L627.94,97.85 L629.01,97.28 L630.08,96.72 L631.16,96.17 L632.23,95.64 L633.30,95.12 L634.37,94.62 L635.44,94.12 L636.51,93.65 L637.58,93.19 L638.65,92.74 L639.73,92.31 L640.80,91.90 L641.87,91.51 L642.94,91.13 L644.01,90.77 L645.08,90.43 L646.15,90.11 L647.22,89.81 L648.30,89.53 L649.37,89.26 L650.44,89.03 L651.51,88.81 L652.58,88.61 L653.65,88.44 L654.72,88.29 L655.79,88.17 L656.87,88.07 L657.94,88.00 L659.01,87.95 L660.08,87.94 L661.15,87.94 L662.22,87.98 L663.29,88.05 L664.36,88.14 L665.44,88.27 L666.51,88.43 L667.58,88.62 L668.65,88.84 L669.72,89.09 L670.79,89.39 L671.86,89.71 L672.93,90.07 L674.01,90.47 L675.08,90.91 L676.15,91.38 L677.22,91.90 L678.29,92.45 L679.36,93.05 L680.43,93.69 L681.50,94.37 L682.58,95.10 L683.65,95.87 L684.72,96.69 L685.79,97.56 L686.86,98.48 L687.93,99.44 L689.00,100.46 L690.07,101.52 L691.15,102.64 L692.22,103.82 L693.29,105.05 L694.36,106.33 L695.43,107.68 L696.50,109.08 L697.57,110.54 L698.64,112.07 L699.72,113.66 L700.79,115.31 L701.86,117.02 L702.93,118.81 L704.00,120.66 L705.07,122.58 L706.14,124.58 L707.21,126.64 L708.29,128.79 L709.36,131.00 L710.43,133.30 L711.50,135.67 L712.57,138.12 L713.64,140.66 L714.71,143.28 L715.78,145.98 L716.86,148.78 L717.93,151.66 L719.00,154.63 L720.07,157.70 L721.14,160.86 L722.21,164.11 L723.28,167.47 L724.35,170.92 L725.43,174.48 L726.50,178.14 L727.57,181.91 L728.64,185.79" fill="none" stroke="#E69F00" stroke-width="0.9" stroke-opacity="0.4" stroke-linejoin="round" clip-path="url(#cpB)"/>
<path d="M515.46,178.16 L516.53,177.65 L517.60,177.16 L518.67,176.67 L519.75,176.19 L520.82,175.72 L521.89,175.25 L522.96,174.78 L524.03,174.32 L525.10,173.86 L526.17,173.40 L527.24,172.95 L528.32,172.49 L529.39,172.04 L530.46,171.58 L531.53,171.13 L532.60,170.67 L533.67,170.22 L534.74,169.76 L535.81,169.30 L536.89,168.83 L537.96,168.36 L539.03,167.89 L540.10,167.42 L541.17,166.94 L542.24,166.45 L543.31,165.96 L544.38,165.46 L545.46,164.96 L546.53,164.45 L547.60,163.93 L548.67,163.40 L549.74,162.87 L550.81,162.33 L551.88,161.77 L552.95,161.21 L554.03,160.64 L555.10,160.06 L556.17,159.47 L557.24,158.87 L558.31,158.26 L559.38,157.63 L560.45,156.99 L561.52,156.35 L562.60,155.68 L563.67,155.01 L564.74,154.32 L565.81,153.62 L566.88,152.91 L567.95,152.18 L569.02,151.44 L570.09,150.68 L571.17,149.91 L572.24,149.12 L573.31,148.32 L574.38,147.50 L575.45,146.67 L576.52,145.82 L577.59,144.96 L578.66,144.08 L579.74,143.18 L580.81,142.28 L581.88,141.35 L582.95,140.41 L584.02,139.46 L585.09,138.49 L586.16,137.50 L587.23,136.50 L588.31,135.49 L589.38,134.46 L590.45,133.42 L591.52,132.37 L592.59,131.31 L593.66,130.23 L594.73,129.14 L595.80,128.04 L596.88,126.93 L597.95,125.80 L599.02,124.67 L600.09,123.53 L601.16,122.38 L602.23,121.23 L603.30,120.06 L604.37,118.89 L605.45,117.72 L606.52,116.54 L607.59,115.35 L608.66,114.17 L609.73,112.97 L610.80,111.78 L611.87,110.59 L612.94,109.39 L614.02,108.20 L615.09,107.01 L616.16,105.81 L617.23,104.63 L618.30,103.44 L619.37,102.26 L620.44,101.08 L621.51,99.91 L622.59,98.75 L623.66,97.60 L624.73,96.45 L625.80,95.32 L626.87,94.19 L627.94,93.08 L629.01,91.98 L630.08,90.90 L631.16,89.83 L632.23,88.77 L633.30,87.74 L634.37,86.72 L635.44,85.73 L636.51,84.76 L637.58,83.81 L638.65,82.89 L639.73,82.00 L640.80,81.14 L641.87,80.30 L642.94,79.51 L644.01,78.74 L645.08,78.02 L646.15,77.33 L647.22,76.69 L648.30,76.09 L649.37,75.54 L650.44,75.04 L651.51,74.58 L652.58,74.19 L653.65,73.85 L654.72,73.56 L655.79,73.34 L656.87,73.19 L657.94,73.10 L659.01,73.07 L660.08,73.12 L661.15,73.24 L662.22,73.44 L663.29,73.71 L664.36,74.07 L665.44,74.50 L666.51,75.02 L667.58,75.62 L668.65,76.30 L669.72,77.07 L670.79,77.93 L671.86,78.87 L672.93,79.90 L674.01,81.02 L675.08,82.22 L676.15,83.51 L677.22,84.88 L678.29,86.34 L679.36,87.88 L680.43,89.50 L681.50,91.20 L682.58,92.98 L683.65,94.83 L684.72,96.74 L685.79,98.73 L686.86,100.77 L687.93,102.87 L689.00,105.03 L690.07,107.23 L691.15,109.48 L692.22,111.77 L693.29,114.09 L694.36,116.43 L695.43,118.80 L696.50,121.18 L697.57,123.58 L698.64,125.97 L699.72,128.36 L700.79,130.75 L701.86,133.12 L702.93,135.46 L704.00,137.78 L705.07,140.07 L706.14,142.31 L707.21,144.52 L708.29,146.67 L709.36,148.77 L710.43,150.81 L711.50,152.79 L712.57,154.71 L713.64,156.55 L714.71,158.32 L715.78,160.02 L716.86,161.64 L717.93,163.18 L719.00,164.65 L720.07,166.03 L721.14,167.33 L722.21,168.56 L723.28,169.70 L724.35,170.77 L725.43,171.76 L726.50,172.68 L727.57,173.53 L728.64,174.30" fill="none" stroke="#E8D84A" stroke-width="0.9" stroke-opacity="0.7" stroke-linejoin="round" clip-path="url(#cpB)"/>
<path d="M515.46,172.04 L516.53,171.82 L517.60,171.60 L518.67,171.37 L519.75,171.13 L520.82,170.89 L521.89,170.65 L522.96,170.39 L524.03,170.14 L525.10,169.87 L526.17,169.60 L527.24,169.32 L528.32,169.04 L529.39,168.74 L530.46,168.44 L531.53,168.14 L532.60,167.82 L533.67,167.50 L534.74,167.17 L535.81,166.83 L536.89,166.49 L537.96,166.13 L539.03,165.77 L540.10,165.40 L541.17,165.02 L542.24,164.63 L543.31,164.23 L544.38,163.82 L545.46,163.40 L546.53,162.98 L547.60,162.54 L548.67,162.09 L549.74,161.63 L550.81,161.17 L551.88,160.69 L552.95,160.20 L554.03,159.70 L555.10,159.18 L556.17,158.66 L557.24,158.12 L558.31,157.58 L559.38,157.02 L560.45,156.44 L561.52,155.86 L562.60,155.26 L563.67,154.65 L564.74,154.03 L565.81,153.39 L566.88,152.74 L567.95,152.08 L569.02,151.40 L570.09,150.71 L571.17,150.01 L572.24,149.29 L573.31,148.56 L574.38,147.81 L575.45,147.05 L576.52,146.27 L577.59,145.48 L578.66,144.67 L579.74,143.85 L580.81,143.01 L581.88,142.16 L582.95,141.29 L584.02,140.40 L585.09,139.50 L586.16,138.59 L587.23,137.66 L588.31,136.71 L589.38,135.75 L590.45,134.77 L591.52,133.78 L592.59,132.78 L593.66,131.75 L594.73,130.72 L595.80,129.66 L596.88,128.60 L597.95,127.52 L599.02,126.42 L600.09,125.31 L601.16,124.19 L602.23,123.05 L603.30,121.90 L604.37,120.74 L605.45,119.57 L606.52,118.38 L607.59,117.19 L608.66,115.98 L609.73,114.77 L610.80,113.54 L611.87,112.31 L612.94,111.07 L614.02,109.82 L615.09,108.57 L616.16,107.31 L617.23,106.05 L618.30,104.79 L619.37,103.52 L620.44,102.25 L621.51,100.99 L622.59,99.72 L623.66,98.46 L624.73,97.21 L625.80,95.96 L626.87,94.72 L627.94,93.48 L629.01,92.26 L630.08,91.05 L631.16,89.86 L632.23,88.68 L633.30,87.52 L634.37,86.38 L635.44,85.27 L636.51,84.17 L637.58,83.11 L638.65,82.07 L639.73,81.07 L640.80,80.10 L641.87,79.16 L642.94,78.26 L644.01,77.41 L645.08,76.59 L646.15,75.83 L647.22,75.11 L648.30,74.44 L649.37,73.82 L650.44,73.26 L651.51,72.76 L652.58,72.32 L653.65,71.95 L654.72,71.64 L655.79,71.39 L656.87,71.22 L657.94,71.12 L659.01,71.09 L660.08,71.15 L661.15,71.28 L662.22,71.49 L663.29,71.78 L664.36,72.16 L665.44,72.62 L666.51,73.17 L667.58,73.80 L668.65,74.53 L669.72,75.34 L670.79,76.24 L671.86,77.24 L672.93,78.32 L674.01,79.49 L675.08,80.74 L676.15,82.09 L677.22,83.52 L678.29,85.03 L679.36,86.63 L680.43,88.31 L681.50,90.07 L682.58,91.90 L683.65,93.80 L684.72,95.77 L685.79,97.81 L686.86,99.90 L687.93,102.06 L689.00,104.26 L690.07,106.51 L691.15,108.81 L692.22,111.14 L693.29,113.50 L694.36,115.89 L695.43,118.29 L696.50,120.71 L697.57,123.14 L698.64,125.57 L699.72,127.99 L700.79,130.40 L701.86,132.80 L702.93,135.17 L704.00,137.51 L705.07,139.82 L706.14,142.09 L707.21,144.32 L708.29,146.49 L709.36,148.60 L710.43,150.66 L711.50,152.66 L712.57,154.58 L713.64,156.44 L714.71,158.22 L715.78,159.93 L716.86,161.56 L717.93,163.11 L719.00,164.58 L720.07,165.97 L721.14,167.28 L722.21,168.51 L723.28,169.66 L724.35,170.73 L725.43,171.73 L726.50,172.65 L727.57,173.50 L728.64,174.28" fill="none" stroke="#009E73" stroke-width="0.9" stroke-opacity="0.4" stroke-linejoin="round" clip-path="url(#cpB)"/>
<line x1="504.5" y1="180.40" x2="739.5" y2="180.40" stroke="#222" stroke-width="1.3" stroke-dasharray="4,3"/>
<line x1="564.6" y1="108.5" x2="564.6" y2="146.3" stroke="#888" stroke-width="0.6"/>
<path d="M515.46,173.38 L515.99,173.27 L516.53,173.16 L517.06,173.05 L517.60,172.94 L518.13,172.83 L518.67,172.71 L519.20,172.60 L519.73,172.48 L520.27,172.36 L520.80,172.24 L521.34,172.12 L521.87,172.00 L522.41,171.88 L522.94,171.76 L523.47,171.63 L524.01,171.50 L524.54,171.38 L525.08,171.25 L525.61,171.12 L526.15,170.98 L526.68,170.85 L527.21,170.71 L527.75,170.58 L528.28,170.44 L528.82,170.30 L529.35,170.16 L529.89,170.02 L530.42,169.87 L530.95,169.73 L531.49,169.58 L532.02,169.43 L532.56,169.28 L533.09,169.13 L533.63,168.98 L534.16,168.82 L534.69,168.66 L535.23,168.51 L535.76,168.35 L536.30,168.18 L536.83,168.02 L537.37,167.85 L537.90,167.69 L538.43,167.52 L538.97,167.35 L539.50,167.18 L540.04,167.00 L540.57,166.82 L541.11,166.65 L541.64,166.47 L542.17,166.28 L542.71,166.10 L543.24,165.92 L543.78,165.73 L544.31,165.54 L544.85,165.35 L545.38,165.15 L545.91,164.96 L546.45,164.76 L546.98,164.56 L547.52,164.36 L548.05,164.15 L548.59,163.95 L549.12,163.74 L549.65,163.53 L550.19,163.32 L550.72,163.10 L551.26,162.89 L551.79,162.67 L552.33,162.44 L552.86,162.22 L553.39,161.99 L553.93,161.77 L554.46,161.54 L555.00,161.30 L555.53,161.07 L556.07,160.83 L556.60,160.59 L557.13,160.35 L557.67,160.10 L558.20,159.85 L558.74,159.60 L559.27,159.35 L559.81,159.10 L560.34,158.84 L560.87,158.58 L561.41,158.32 L561.94,158.05 L562.48,157.78 L563.01,157.51 L563.55,157.24 L564.08,156.96 L564.61,156.68 L565.15,156.40 L565.68,156.12 L566.22,155.83 L566.75,155.54 L567.29,155.25 L567.82,154.95 L568.35,154.66 L568.89,154.36 L569.42,154.05 L569.96,153.75 L570.49,153.44 L571.03,153.12 L571.56,152.81 L572.09,152.49 L572.63,152.17 L573.16,151.85 L573.70,151.52 L574.23,151.19 L574.77,150.86 L575.30,150.52 L575.83,150.18 L576.37,149.84 L576.90,149.49 L577.44,149.15 L577.97,148.80 L578.51,148.44 L579.04,148.08 L579.57,147.72 L580.11,147.35 L580.64,146.97 L581.18,146.58 L581.71,146.17 L582.25,145.74 L582.78,145.28 L583.31,144.78 L583.85,144.25 L584.38,143.66 L584.92,143.03 L585.45,142.34 L585.99,141.60 L586.52,140.82 L587.05,139.99 L587.59,139.12 L588.12,138.22 L588.66,137.30 L589.19,136.37 L589.73,135.43 L590.26,134.49 L590.79,133.57 L591.33,132.65 L591.86,131.75 L592.40,130.88 L592.93,130.03 L593.47,129.20 L594.00,128.40 L594.53,127.63 L595.07,126.88 L595.60,126.15 L596.14,125.45 L596.67,124.77 L597.21,124.11 L597.74,123.47 L598.27,122.85 L598.81,122.24 L599.34,121.64 L599.88,121.06 L600.41,120.48 L600.95,119.92 L601.48,119.36 L602.01,118.81 L602.55,118.27 L603.08,117.73 L603.62,117.20 L604.15,116.66 L604.69,116.14 L605.22,115.61 L605.75,115.08 L606.29,114.56 L606.82,114.03 L607.36,113.51 L607.89,112.98 L608.43,112.46 L608.96,111.94 L609.49,111.41 L610.03,110.88 L610.56,110.36 L611.10,109.83 L611.63,109.30 L612.17,108.77 L612.70,108.24 L613.23,107.71 L613.77,107.18 L614.30,106.65 L614.84,106.11 L615.37,105.58 L615.91,105.04 L616.44,104.51 L616.97,103.97 L617.51,103.43 L618.04,102.90 L618.58,102.36 L619.11,101.82 L619.65,101.29 L620.18,100.75 L620.71,100.21 L621.25,99.67 L621.78,99.14 L622.32,98.60 L622.85,98.07 L623.39,97.53 L623.92,97.00 L624.45,96.47 L624.99,95.94 L625.52,95.41 L626.06,94.88 L626.59,94.36 L627.13,93.83 L627.66,93.31 L628.19,92.79 L628.73,92.28 L629.26,91.76 L629.80,91.25 L630.33,90.74 L630.87,90.24 L631.40,89.74 L631.93,89.24 L632.47,88.74 L633.00,88.25 L633.54,87.77 L634.07,87.29 L634.61,86.81 L635.14,86.34 L635.67,85.87 L636.21,85.41 L636.74,84.95 L637.28,84.50 L637.81,84.06 L638.35,83.62 L638.88,83.19 L639.41,82.77 L639.95,82.35 L640.48,81.94 L641.02,81.53 L641.55,81.14 L642.09,80.75 L642.62,80.37 L643.15,80.00 L643.69,79.64 L644.22,79.28 L644.76,78.94 L645.29,78.60 L645.83,78.28 L646.36,77.96 L646.89,77.66 L647.43,77.36 L647.96,77.08 L648.50,76.80 L649.03,76.54 L649.57,76.29 L650.10,76.05 L650.63,75.82 L651.17,75.61 L651.70,75.41 L652.24,75.22 L652.77,75.04 L653.31,74.88 L653.84,74.73 L654.37,74.59 L654.91,74.47 L655.44,74.37 L655.98,74.27 L656.51,74.20 L657.05,74.13 L657.58,74.09 L658.11,74.05 L658.65,74.04 L659.18,74.04 L659.72,74.05 L660.25,74.08 L660.79,74.13 L661.32,74.20 L661.85,74.28 L662.39,74.38 L662.92,74.49 L663.46,74.63 L663.99,74.78 L664.53,74.95 L665.06,75.13 L665.59,75.34 L666.13,75.56 L666.66,75.80 L667.20,76.06 L667.73,76.34 L668.27,76.64 L668.80,76.95 L669.33,77.28 L669.87,77.64 L670.40,78.01 L670.94,78.40 L671.47,78.81 L672.01,79.24 L672.54,79.68 L673.07,80.15 L673.61,80.63 L674.14,81.14 L674.68,81.66 L675.21,82.20 L675.75,82.76 L676.28,83.34 L676.81,83.94 L677.35,84.55 L677.88,85.19 L678.42,85.84 L678.95,86.52 L679.49,87.21 L680.02,87.92 L680.55,88.65 L681.09,89.39 L681.62,90.16 L682.16,90.94 L682.69,91.74 L683.23,92.56 L683.76,93.40 L684.29,94.26 L684.83,95.13 L685.36,96.03 L685.90,96.94 L686.43,97.87 L686.97,98.82 L687.50,99.79 L688.03,100.78 L688.57,101.79 L689.10,102.81 L689.64,103.86 L690.17,104.93 L690.71,106.01 L691.24,107.12 L691.77,108.25 L692.31,109.40 L692.84,110.57 L693.38,111.75 L693.91,112.96 L694.45,114.20 L694.98,115.45 L695.51,116.72 L696.05,118.01 L696.58,119.32 L697.12,120.65 L697.65,122.00 L698.19,123.36 L698.72,124.74 L699.25,126.13 L699.79,127.53 L700.32,128.94 L700.86,130.35 L701.39,131.77 L701.93,133.18 L702.46,134.60 L702.99,136.00 L703.53,137.39 L704.06,138.77 L704.60,140.13 L705.13,141.47 L705.67,142.79 L706.20,144.08 L706.73,145.34 L707.27,146.57 L707.80,147.78 L708.34,148.96 L708.87,150.13 L709.41,151.40 L709.94,152.42 L710.47,153.41 L711.01,154.37 L711.54,155.30 L712.08,156.21 L712.61,157.09 L713.15,157.94 L713.68,158.78 L714.21,159.59 L714.75,160.39 L715.28,161.16 L715.82,161.93 L716.35,162.67 L716.89,163.40 L717.42,164.11 L717.95,164.81 L718.49,165.50 L719.02,166.16 L719.56,166.82 L720.09,167.45 L720.63,168.08 L721.16,168.68 L721.69,169.28 L722.23,169.85 L722.76,170.42 L723.30,170.96 L723.83,171.50 L724.37,172.02 L724.90,172.52 L725.43,173.01 L725.97,173.49 L726.50,173.95 L727.04,174.40 L727.57,174.83 L728.11,175.26 L728.64,175.67" fill="none" stroke="#0000EE" stroke-width="2.6" stroke-opacity="1" stroke-linejoin="round"/>
<circle cx="515.46" cy="171.29" r="2.1" fill="#000"/>
<circle cx="534.84" cy="161.90" r="2.1" fill="#000"/>
<circle cx="554.22" cy="154.02" r="2.1" fill="#000"/>
<circle cx="573.60" cy="149.19" r="2.1" fill="#000"/>
<circle cx="592.98" cy="123.42" r="2.1" fill="#000"/>
<circle cx="612.36" cy="99.48" r="2.1" fill="#000"/>
<circle cx="631.74" cy="115.26" r="2.1" fill="#000"/>
<circle cx="651.12" cy="70.24" r="2.1" fill="#000"/>
<circle cx="670.50" cy="80.10" r="2.1" fill="#000"/>
<circle cx="689.88" cy="79.28" r="2.1" fill="#000"/>
<circle cx="709.26" cy="178.36" r="2.1" fill="#000"/>
<circle cx="728.64" cy="167.68" r="2.1" fill="#000"/>
<rect x="534.4" y="96.4" width="60.89999999999998" height="12.099999999999994" rx="2.2" ry="2.2" fill="#fff" stroke="#2a2aee" stroke-width="0.8" stroke-opacity="0.85"/>
<text x="564.85" y="105.55" font-size="8.2" text-anchor="middle" fill="#1515ee" font-weight="normal" stroke="#1515ee" stroke-width="0.15" >model average</text>
<line x1="284.7" y1="78.7" x2="469.7" y2="78.7" stroke="#666" stroke-width="2"/>
<text x="289.7" y="93.0" font-size="10.4" text-anchor="start" fill="#111" font-weight="normal" stroke="#111" stroke-width="0.15" >model name</text>
<text x="407" y="93.0" font-size="10.4" text-anchor="middle" fill="#111" font-weight="normal" stroke="#111" stroke-width="0.15" >AICc</text>
<text x="449.5" y="93.0" font-size="10.4" text-anchor="middle" fill="#111" font-weight="normal" stroke="#111" stroke-width="0.15" >ΔAICc</text>
<rect x="284.7" y="100.8" width="185.0" height="19.30" fill="#009E73"/>
<text x="289.7" y="113.80" font-size="10.4" text-anchor="start" fill="#111" font-weight="bold" >weibull</text>
<text x="419.7" y="113.80" font-size="10.4" text-anchor="end" fill="#111" font-weight="bold" >17.60</text>
<text x="459.7" y="113.80" font-size="10.4" text-anchor="end" fill="#111" font-weight="bold" >0.00</text>
<rect x="284.7" y="120.0" width="185.0" height="18.90" fill="#56B4E9"/>
<text x="289.7" y="132.80" font-size="10.4" text-anchor="start" fill="#111" font-weight="normal" stroke="#111" stroke-width="0.15" >modifiedgaussian</text>
<text x="419.7" y="132.80" font-size="10.4" text-anchor="end" fill="#111" font-weight="normal" stroke="#111" stroke-width="0.15" >21.40</text>
<text x="459.7" y="132.80" font-size="10.4" text-anchor="end" fill="#111" font-weight="normal" stroke="#111" stroke-width="0.15" >3.80</text>
<rect x="284.7" y="138.8" width="185.0" height="19.00" fill="#E69F00"/>
<text x="289.7" y="151.65" font-size="10.4" text-anchor="start" fill="#111" font-weight="normal" stroke="#111" stroke-width="0.15" >lactin2</text>
<text x="419.7" y="151.65" font-size="10.4" text-anchor="end" fill="#111" font-weight="normal" stroke="#111" stroke-width="0.15" >23.14</text>
<text x="459.7" y="151.65" font-size="10.4" text-anchor="end" fill="#111" font-weight="normal" stroke="#111" stroke-width="0.15" >5.54</text>
<rect x="284.7" y="157.7" width="185.0" height="19.30" fill="#F0E442"/>
<text x="289.7" y="170.70" font-size="10.4" text-anchor="start" fill="#111" font-weight="normal" stroke="#111" stroke-width="0.15" >boatman</text>
<text x="419.7" y="170.70" font-size="10.4" text-anchor="end" fill="#111" font-weight="normal" stroke="#111" stroke-width="0.15" >26.83</text>
<text x="459.7" y="170.70" font-size="10.4" text-anchor="end" fill="#111" font-weight="normal" stroke="#111" stroke-width="0.15" >9.24</text>
<line x1="284.7" y1="99.9" x2="469.7" y2="99.9" stroke="#666" stroke-width="1.8"/>
<line x1="284.7" y1="177.8" x2="469.7" y2="177.8" stroke="#666" stroke-width="1.8"/>
<rect x="78.5" y="287.5" width="264.0" height="141.0" fill="#e8e8e8"/>
<line x1="122.30" y1="287.5" x2="122.30" y2="428.5" stroke="#cfcfcf" stroke-width="0.9"/>
<line x1="202.35" y1="287.5" x2="202.35" y2="428.5" stroke="#cfcfcf" stroke-width="0.9"/>
<line x1="282.40" y1="287.5" x2="282.40" y2="428.5" stroke="#cfcfcf" stroke-width="0.9"/>
<line x1="78.5" y1="422.05" x2="342.5" y2="422.05" stroke="#cfcfcf" stroke-width="0.9"/>
<line x1="78.5" y1="385.35" x2="342.5" y2="385.35" stroke="#cfcfcf" stroke-width="0.9"/>
<line x1="78.5" y1="348.65" x2="342.5" y2="348.65" stroke="#cfcfcf" stroke-width="0.9"/>
<line x1="78.5" y1="311.95" x2="342.5" y2="311.95" stroke="#cfcfcf" stroke-width="0.9"/>
<rect x="78.5" y="287.5" width="264.0" height="141.0" fill="none" stroke="#707070" stroke-width="1"/>
<line x1="122.30" y1="428.5" x2="122.30" y2="431.8" stroke="#707070" stroke-width="0.9"/>
<text x="122.30" y="440.30" font-size="8.5" text-anchor="middle" fill="#111" font-weight="normal" stroke="#111" stroke-width="0.15" >20</text>
<line x1="202.35" y1="428.5" x2="202.35" y2="431.8" stroke="#707070" stroke-width="0.9"/>
<text x="202.35" y="440.30" font-size="8.5" text-anchor="middle" fill="#111" font-weight="normal" stroke="#111" stroke-width="0.15" >30</text>
<line x1="282.40" y1="428.5" x2="282.40" y2="431.8" stroke="#707070" stroke-width="0.9"/>
<text x="282.40" y="440.30" font-size="8.5" text-anchor="middle" fill="#111" font-weight="normal" stroke="#111" stroke-width="0.15" >40</text>
<line x1="75.2" y1="422.05" x2="78.5" y2="422.05" stroke="#707070" stroke-width="0.9"/>
<text x="74.60" y="425.05" font-size="8.5" text-anchor="end" fill="#111" font-weight="normal" stroke="#111" stroke-width="0.15" >0</text>
<line x1="75.2" y1="385.35" x2="78.5" y2="385.35" stroke="#707070" stroke-width="0.9"/>
<text x="74.60" y="388.35" font-size="8.5" text-anchor="end" fill="#111" font-weight="normal" stroke="#111" stroke-width="0.15" >1</text>
<line x1="75.2" y1="348.65" x2="78.5" y2="348.65" stroke="#707070" stroke-width="0.9"/>
<text x="74.60" y="351.65" font-size="8.5" text-anchor="end" fill="#111" font-weight="normal" stroke="#111" stroke-width="0.15" >2</text>
<line x1="75.2" y1="311.95" x2="78.5" y2="311.95" stroke="#707070" stroke-width="0.9"/>
<text x="74.60" y="314.95" font-size="8.5" text-anchor="end" fill="#111" font-weight="normal" stroke="#111" stroke-width="0.15" >3</text>
<text x="210.50" y="458.0" font-size="10.0" text-anchor="middle" fill="#111" font-weight="normal" stroke="#111" stroke-width="0.15" >Temperature (°C)</text>
<text x="0" y="0" font-size="10.0" text-anchor="middle" fill="#111" stroke="#111" stroke-width="0.15" transform="translate(60.7,358.90) rotate(-90)">Rate</text>
<line x1="78.5" y1="422.05" x2="342.5" y2="422.05" stroke="#222" stroke-width="1.3" stroke-dasharray="4,3"/>
<line x1="114.30" y1="405" x2="114.30" y2="412.2" stroke="#111" stroke-width="1.3"/>
<line x1="138.31" y1="385" x2="138.31" y2="398.7" stroke="#111" stroke-width="1.3"/>
<line x1="162.32" y1="367.9" x2="162.32" y2="394" stroke="#111" stroke-width="1.3"/>
<line x1="210.36" y1="361.7" x2="210.36" y2="371.4" stroke="#111" stroke-width="1.3"/>
<line x1="234.37" y1="359.6" x2="234.37" y2="367.6" stroke="#111" stroke-width="1.3"/>
<line x1="258.38" y1="323.4" x2="258.38" y2="354.4" stroke="#111" stroke-width="1.3"/>
<line x1="282.40" y1="321.5" x2="282.40" y2="337.7" stroke="#111" stroke-width="1.3"/>
<line x1="306.42" y1="338.6" x2="306.42" y2="400.3" stroke="#111" stroke-width="1.3"/>
<line x1="265.5" y1="323.3" x2="276.2" y2="344.05" stroke="#888" stroke-width="0.6"/>
<line x1="300.1" y1="304.5" x2="289.9" y2="342.8" stroke="#888" stroke-width="0.6"/>
<line x1="176.2" y1="339.8" x2="192" y2="370" stroke="#888" stroke-width="0.6"/>
<line x1="208.5" y1="358.5" x2="195.3" y2="372.7" stroke="#888" stroke-width="0.6"/>
<path d="M90.28,417.58 L91.49,417.02 L92.69,416.45 L93.90,415.89 L95.11,415.32 L96.31,414.75 L97.52,414.19 L98.73,413.62 L99.93,413.05 L101.14,412.49 L102.35,411.92 L103.55,411.36 L104.76,410.79 L105.97,410.23 L107.17,409.66 L108.38,409.09 L109.59,408.53 L110.80,407.96 L112.00,407.40 L113.21,406.83 L114.42,406.27 L115.62,405.70 L116.83,405.14 L118.04,404.57 L119.24,404.01 L120.45,403.44 L121.66,402.88 L122.86,402.31 L124.07,401.75 L125.28,401.18 L126.48,400.62 L127.69,400.05 L128.90,399.49 L130.10,398.92 L131.31,398.36 L132.52,397.79 L133.72,397.23 L134.93,396.67 L136.14,396.10 L137.34,395.54 L138.55,394.98 L139.76,394.41 L140.96,393.85 L142.17,393.29 L143.38,392.72 L144.59,392.16 L145.79,391.60 L147.00,391.04 L148.21,390.47 L149.41,389.91 L150.62,389.35 L151.83,388.79 L153.03,388.23 L154.24,387.67 L155.45,387.11 L156.65,386.55 L157.86,385.99 L159.07,385.43 L160.27,384.87 L161.48,384.31 L162.69,383.75 L163.89,383.20 L165.10,382.64 L166.31,382.08 L167.51,381.53 L168.72,380.97 L169.93,380.42 L171.13,379.86 L172.34,379.31 L173.55,378.75 L174.75,378.20 L175.96,377.65 L177.17,377.10 L178.38,376.55 L179.58,376.00 L180.79,375.45 L182.00,374.90 L183.20,374.35 L184.41,373.80 L185.62,373.26 L186.82,372.71 L188.03,372.17 L189.24,371.63 L190.44,371.09 L191.65,370.55 L192.86,370.01 L194.06,369.47 L195.27,368.94 L196.48,368.40 L197.68,367.87 L198.89,367.34 L200.10,366.81 L201.30,366.28 L202.51,365.75 L203.72,365.23 L204.92,364.71 L206.13,364.19 L207.34,363.67 L208.54,363.15 L209.75,362.64 L210.96,362.13 L212.17,361.62 L213.37,361.12 L214.58,360.62 L215.79,360.12 L216.99,359.62 L218.20,359.13 L219.41,358.64 L220.61,358.15 L221.82,357.67 L223.03,357.20 L224.23,356.72 L225.44,356.25 L226.65,355.79 L227.85,355.33 L229.06,354.87 L230.27,354.42 L231.47,353.98 L232.68,353.54 L233.89,353.11 L235.09,352.68 L236.30,352.26 L237.51,351.85 L238.71,351.45 L239.92,351.05 L241.13,350.66 L242.33,350.28 L243.54,349.90 L244.75,349.54 L245.96,349.18 L247.16,348.84 L248.37,348.50 L249.58,348.18 L250.78,347.86 L251.99,347.56 L253.20,347.27 L254.40,346.99 L255.61,346.73 L256.82,346.48 L258.02,346.25 L259.23,346.03 L260.44,345.82 L261.64,345.63 L262.85,345.46 L264.06,345.31 L265.26,345.18 L266.47,345.06 L267.68,344.97 L268.88,344.90 L270.09,344.85 L271.30,344.83 L272.50,344.83 L273.71,344.85 L274.92,344.90 L276.12,344.98 L277.33,345.09 L278.54,345.23 L279.75,345.41 L280.95,345.61 L282.16,345.85 L283.37,346.13 L284.57,346.44 L285.78,346.80 L286.99,347.20 L288.19,347.64 L289.40,348.12 L290.61,348.65 L291.81,349.24 L293.02,349.87 L294.23,350.56 L295.43,351.30 L296.64,352.11 L297.85,352.97 L299.05,353.90 L300.26,354.90 L301.47,355.97 L302.67,357.11 L303.88,358.32 L305.09,359.62 L306.29,361.00 L307.50,362.47 L308.71,364.02 L309.91,365.68 L311.12,367.43 L312.33,369.28 L313.54,371.25 L314.74,373.32 L315.95,375.52 L317.16,377.83 L318.36,380.28 L319.57,382.86 L320.78,385.58 L321.98,388.44 L323.19,391.46 L324.40,394.64 L325.60,397.99 L326.81,401.50 L328.02,405.20 L329.22,409.09 L330.43,413.18" fill="none" stroke="#1B9E77" stroke-width="1.25" stroke-opacity="1" stroke-linejoin="round"/>
<path d="M90.28,416.05 L91.49,415.54 L92.69,415.03 L93.90,414.53 L95.11,414.02 L96.31,413.51 L97.52,413.01 L98.73,412.50 L99.93,412.00 L101.14,411.49 L102.35,410.99 L103.55,410.49 L104.76,409.98 L105.97,409.48 L107.17,408.98 L108.38,408.47 L109.59,407.97 L110.80,407.47 L112.00,406.97 L113.21,406.47 L114.42,405.97 L115.62,405.47 L116.83,404.97 L118.04,404.47 L119.24,403.97 L120.45,403.47 L121.66,402.98 L122.86,402.48 L124.07,401.98 L125.28,401.48 L126.48,400.99 L127.69,400.49 L128.90,400.00 L130.10,399.50 L131.31,399.01 L132.52,398.51 L133.72,398.02 L134.93,397.52 L136.14,397.03 L137.34,396.54 L138.55,396.05 L139.76,395.55 L140.96,395.06 L142.17,394.57 L143.38,394.08 L144.59,393.59 L145.79,393.10 L147.00,392.61 L148.21,392.12 L149.41,391.63 L150.62,391.14 L151.83,390.65 L153.03,390.16 L154.24,389.68 L155.45,389.19 L156.65,388.70 L157.86,388.22 L159.07,387.73 L160.27,387.24 L161.48,386.76 L162.69,386.27 L163.89,385.79 L165.10,385.30 L166.31,384.82 L167.51,384.34 L168.72,383.85 L169.93,383.37 L171.13,382.89 L172.34,382.41 L173.55,381.93 L174.75,381.44 L175.96,380.96 L177.17,380.48 L178.38,380.00 L179.58,379.52 L180.79,379.04 L182.00,378.56 L183.20,378.09 L184.41,377.61 L185.62,377.13 L186.82,376.65 L188.03,376.18 L189.24,375.70 L190.44,375.22 L191.65,374.75 L192.86,374.27 L194.06,373.80 L195.27,373.32 L196.48,372.85 L197.68,372.38 L198.89,371.90 L200.10,371.43 L201.30,370.96 L202.51,370.49 L203.72,370.02 L204.92,369.55 L206.13,369.08 L207.34,368.61 L208.54,368.14 L209.75,367.67 L210.96,367.20 L212.17,366.73 L213.37,366.27 L214.58,365.80 L215.79,365.33 L216.99,364.87 L218.20,364.41 L219.41,363.94 L220.61,363.48 L221.82,363.02 L223.03,362.56 L224.23,362.10 L225.44,361.64 L226.65,361.18 L227.85,360.72 L229.06,360.26 L230.27,359.81 L231.47,359.35 L232.68,358.90 L233.89,358.45 L235.09,358.00 L236.30,357.55 L237.51,357.10 L238.71,356.65 L239.92,356.21 L241.13,355.77 L242.33,355.33 L243.54,354.89 L244.75,354.45 L245.96,354.02 L247.16,353.58 L248.37,353.16 L249.58,352.73 L250.78,352.31 L251.99,351.89 L253.20,351.47 L254.40,351.06 L255.61,350.65 L256.82,350.25 L258.02,349.85 L259.23,349.46 L260.44,349.07 L261.64,348.69 L262.85,348.31 L264.06,347.95 L265.26,347.59 L266.47,347.24 L267.68,346.89 L268.88,346.56 L270.09,346.24 L271.30,345.92 L272.50,345.62 L273.71,345.34 L274.92,345.07 L276.12,344.81 L277.33,344.57 L278.54,344.34 L279.75,344.14 L280.95,343.96 L282.16,343.80 L283.37,343.66 L284.57,343.55 L285.78,343.47 L286.99,343.42 L288.19,343.40 L289.40,343.42 L290.61,343.48 L291.81,343.58 L293.02,343.73 L294.23,343.92 L295.43,344.17 L296.64,344.48 L297.85,344.84 L299.05,345.28 L300.26,345.79 L301.47,346.38 L302.67,347.05 L303.88,347.82 L305.09,348.69 L306.29,349.66 L307.50,350.75 L308.71,351.97 L309.91,353.33 L311.12,354.83 L312.33,356.50 L313.54,358.34 L314.74,360.36 L315.95,362.59 L317.16,365.04 L318.36,367.73 L319.57,370.68 L320.78,373.90 L321.98,377.43 L323.19,381.28 L324.40,385.48 L325.60,390.06 L326.81,395.06 L328.02,400.50 L329.22,406.43 L330.43,412.87" fill="none" stroke="#D95F02" stroke-width="1.25" stroke-opacity="1" stroke-linejoin="round"/>
<circle cx="90.28" cy="414.05" r="2.4" fill="#000"/>
<circle cx="114.30" cy="408.80" r="2.4" fill="#000"/>
<circle cx="138.31" cy="392.10" r="2.4" fill="#000"/>
<circle cx="162.32" cy="381.17" r="2.4" fill="#000"/>
<circle cx="186.34" cy="381.17" r="2.4" fill="#000"/>
<circle cx="210.36" cy="366.30" r="2.4" fill="#000"/>
<circle cx="234.37" cy="363.88" r="2.4" fill="#000"/>
<circle cx="258.38" cy="338.74" r="2.4" fill="#000"/>
<circle cx="282.40" cy="329.82" r="2.4" fill="#000"/>
<circle cx="306.42" cy="369.42" r="2.4" fill="#000"/>
<circle cx="330.43" cy="413.83" r="2.4" fill="#000"/>
<circle cx="276.2" cy="344.05" r="4.2" fill="#1B9E77"/>
<circle cx="289.9" cy="342.8" r="4.2" fill="#D95F02"/>
<rect x="154.5" y="326.2" width="42.400000000000006" height="13.600000000000023" rx="2.2" ry="2.2" fill="#fff" stroke="#1B9E77" stroke-width="0.8" stroke-opacity="0.85"/>
<text x="175.70" y="336.90" font-size="9.4" text-anchor="middle" fill="#1B9E77" font-weight="normal" stroke="#1B9E77" stroke-width="0.15" >standard</text>
<rect x="189" y="345.7" width="43.599999999999994" height="12.800000000000011" rx="2.2" ry="2.2" fill="#fff" stroke="#D95F02" stroke-width="0.8" stroke-opacity="0.85"/>
<text x="210.80" y="356.00" font-size="9.4" text-anchor="middle" fill="#D95F02" font-weight="normal" stroke="#D95F02" stroke-width="0.15" >weighted</text>
<rect x="246.3" y="310.8" width="37.30000000000001" height="12.5" rx="2.2" ry="2.2" fill="#fff" stroke="#1B9E77" stroke-width="0.8" stroke-opacity="0.85"/>
<text x="264.95" y="320.95" font-size="9.4" text-anchor="middle" fill="#1B9E77" font-weight="normal" stroke="#1B9E77" stroke-width="0.15" >39.2 °C</text>
<rect x="281.3" y="291.5" width="37.30000000000001" height="13.0" rx="2.2" ry="2.2" fill="#fff" stroke="#D95F02" stroke-width="0.8" stroke-opacity="0.85"/>
<text x="299.95" y="301.90" font-size="9.4" text-anchor="middle" fill="#D95F02" font-weight="normal" stroke="#D95F02" stroke-width="0.15" >40.9 °C</text>
<rect x="439.5" y="287.5" width="253.0" height="138.0" fill="#e8e8e8"/>
<line x1="478.40" y1="287.5" x2="478.40" y2="425.5" stroke="#cfcfcf" stroke-width="0.9"/>
<line x1="548.40" y1="287.5" x2="548.40" y2="425.5" stroke="#cfcfcf" stroke-width="0.9"/>
<line x1="618.40" y1="287.5" x2="618.40" y2="425.5" stroke="#cfcfcf" stroke-width="0.9"/>
<line x1="688.40" y1="287.5" x2="688.40" y2="425.5" stroke="#cfcfcf" stroke-width="0.9"/>
<line x1="439.5" y1="420.40" x2="692.5" y2="420.40" stroke="#cfcfcf" stroke-width="0.9"/>
<line x1="439.5" y1="386.73" x2="692.5" y2="386.73" stroke="#cfcfcf" stroke-width="0.9"/>
<line x1="439.5" y1="353.07" x2="692.5" y2="353.07" stroke="#cfcfcf" stroke-width="0.9"/>
<line x1="439.5" y1="319.40" x2="692.5" y2="319.40" stroke="#cfcfcf" stroke-width="0.9"/>
<rect x="439.5" y="287.5" width="253.0" height="138.0" fill="none" stroke="#707070" stroke-width="1"/>
<line x1="478.40" y1="425.5" x2="478.40" y2="428.8" stroke="#707070" stroke-width="0.9"/>
<text x="478.40" y="436.90" font-size="8.5" text-anchor="middle" fill="#111" font-weight="normal" stroke="#111" stroke-width="0.15" >20</text>
<line x1="548.40" y1="425.5" x2="548.40" y2="428.8" stroke="#707070" stroke-width="0.9"/>
<text x="548.40" y="436.90" font-size="8.5" text-anchor="middle" fill="#111" font-weight="normal" stroke="#111" stroke-width="0.15" >30</text>
<line x1="618.40" y1="425.5" x2="618.40" y2="428.8" stroke="#707070" stroke-width="0.9"/>
<text x="618.40" y="436.90" font-size="8.5" text-anchor="middle" fill="#111" font-weight="normal" stroke="#111" stroke-width="0.15" >40</text>
<line x1="688.40" y1="425.5" x2="688.40" y2="428.8" stroke="#707070" stroke-width="0.9"/>
<text x="688.40" y="436.90" font-size="8.5" text-anchor="middle" fill="#111" font-weight="normal" stroke="#111" stroke-width="0.15" >50</text>
<line x1="436.2" y1="420.40" x2="439.5" y2="420.40" stroke="#707070" stroke-width="0.9"/>
<text x="435.70" y="423.40" font-size="8.5" text-anchor="end" fill="#111" font-weight="normal" stroke="#111" stroke-width="0.15" >0.0</text>
<line x1="436.2" y1="386.73" x2="439.5" y2="386.73" stroke="#707070" stroke-width="0.9"/>
<text x="435.70" y="389.73" font-size="8.5" text-anchor="end" fill="#111" font-weight="normal" stroke="#111" stroke-width="0.15" >0.5</text>
<line x1="436.2" y1="353.07" x2="439.5" y2="353.07" stroke="#707070" stroke-width="0.9"/>
<text x="435.70" y="356.07" font-size="8.5" text-anchor="end" fill="#111" font-weight="normal" stroke="#111" stroke-width="0.15" >1.0</text>
<line x1="436.2" y1="319.40" x2="439.5" y2="319.40" stroke="#707070" stroke-width="0.9"/>
<text x="435.70" y="322.40" font-size="8.5" text-anchor="end" fill="#111" font-weight="normal" stroke="#111" stroke-width="0.15" >1.5</text>
<text x="566.00" y="454.3" font-size="10.0" text-anchor="middle" fill="#111" font-weight="normal" stroke="#111" stroke-width="0.15" >Temperature (°C)</text>
<text x="0" y="0" font-size="10.0" text-anchor="middle" fill="#111" stroke="#111" stroke-width="0.15" transform="translate(415.2,356.30) rotate(-90)">Rate</text>
<path d="M450.82,405.29 L451.98,405.05 L453.14,404.81 L454.30,404.56 L455.46,404.30 L456.62,404.03 L457.78,403.75 L458.94,403.46 L460.10,403.16 L461.26,402.85 L462.42,402.53 L463.58,402.20 L464.74,401.86 L465.90,401.52 L467.06,401.16 L468.22,400.79 L469.38,400.41 L470.54,400.02 L471.70,399.62 L472.86,399.21 L474.01,398.79 L475.17,398.36 L476.33,397.92 L477.49,397.47 L478.65,397.01 L479.81,396.53 L480.97,396.05 L482.13,395.55 L483.29,395.04 L484.45,394.53 L485.61,394.00 L486.77,393.45 L487.93,392.90 L489.09,392.34 L490.25,391.76 L491.41,391.17 L492.57,390.57 L493.73,389.96 L494.89,389.33 L496.05,388.70 L497.21,388.05 L498.37,387.39 L499.53,386.71 L500.69,386.03 L501.85,385.33 L503.01,384.62 L504.17,383.89 L505.33,383.16 L506.49,382.41 L507.65,381.65 L508.81,380.87 L509.97,380.08 L511.13,379.28 L512.29,378.46 L513.45,377.63 L514.61,376.79 L515.77,375.93 L516.93,375.07 L518.09,374.18 L519.25,373.28 L520.40,372.37 L521.56,371.45 L522.72,370.51 L523.88,369.55 L525.04,368.59 L526.20,367.60 L527.36,366.61 L528.52,365.60 L529.68,364.57 L530.84,363.53 L532.00,362.47 L533.16,361.40 L534.32,360.32 L535.48,359.22 L536.64,358.10 L537.80,356.97 L538.96,355.83 L540.12,354.67 L541.28,353.49 L542.44,352.30 L543.60,351.09 L544.76,349.87 L545.92,348.63 L547.08,347.37 L548.24,346.10 L549.40,344.81 L550.56,343.51 L551.72,342.20 L552.88,340.87 L554.04,339.53 L555.20,338.19 L556.36,336.83 L557.52,335.48 L558.68,334.11 L559.84,332.75 L561.00,331.38 L562.16,330.02 L563.32,328.65 L564.48,327.29 L565.64,325.93 L566.79,324.58 L567.95,323.24 L569.11,321.91 L570.27,320.59 L571.43,319.28 L572.59,317.99 L573.75,316.71 L574.91,315.44 L576.07,314.20 L577.23,312.98 L578.39,311.77 L579.55,310.60 L580.71,309.44 L581.87,308.31 L583.03,307.21 L584.19,306.14 L585.35,305.10 L586.51,304.09 L587.67,303.11 L588.83,302.17 L589.99,301.27 L591.15,300.40 L592.31,299.58 L593.47,298.79 L594.63,298.05 L595.79,297.36 L596.95,296.70 L598.11,296.11 L599.27,295.56 L600.43,295.07 L601.59,294.65 L602.75,294.29 L603.91,294.00 L605.07,293.79 L606.23,293.65 L607.39,293.59 L608.55,293.62 L609.71,293.73 L610.87,293.94 L612.03,294.24 L613.18,294.65 L614.34,295.15 L615.50,295.76 L616.66,296.49 L617.82,297.32 L618.98,298.28 L620.14,299.35 L621.30,300.53 L622.46,301.82 L623.62,303.20 L624.78,304.69 L625.94,306.26 L627.10,307.92 L628.26,309.66 L629.42,311.48 L630.58,313.37 L631.74,315.33 L632.90,317.35 L634.06,319.42 L635.22,321.55 L636.38,323.72 L637.54,325.94 L638.70,328.20 L639.86,330.48 L641.02,332.80 L642.18,335.14 L643.34,337.50 L644.50,339.87 L645.66,342.25 L646.82,344.64 L647.98,347.03 L649.14,349.41 L650.30,351.79 L651.46,354.16 L652.62,356.50 L653.78,358.83 L654.94,361.13 L656.10,363.39 L657.26,365.63 L658.42,367.82 L659.57,369.97 L660.73,372.07 L661.89,374.11 L663.05,376.10 L664.21,378.02 L665.37,379.88 L666.53,381.67 L667.69,383.38 L668.85,385.02 L670.01,386.59 L671.17,388.08 L672.33,389.49 L673.49,390.83 L674.65,392.08 L675.81,393.26 L676.97,394.36 L678.13,395.37 L679.29,396.30 L680.45,397.15 L681.61,397.91 L681.61,418.91 L680.45,418.59 L679.29,418.25 L678.13,417.89 L676.97,417.49 L675.81,417.06 L674.65,416.58 L673.49,416.06 L672.33,415.49 L671.17,414.86 L670.01,414.17 L668.85,413.41 L667.69,412.58 L666.53,411.68 L665.37,410.70 L664.21,409.62 L663.05,408.46 L661.89,407.20 L660.73,405.84 L659.57,404.38 L658.42,402.80 L657.26,401.10 L656.10,399.27 L654.94,397.31 L653.78,395.20 L652.62,392.95 L651.46,390.58 L650.30,388.11 L649.14,385.57 L647.98,382.97 L646.82,380.35 L645.66,377.72 L644.50,375.10 L643.34,372.52 L642.18,370.01 L641.02,367.58 L639.86,365.25 L638.70,362.99 L637.54,360.83 L636.38,358.75 L635.22,356.76 L634.06,354.85 L632.90,353.03 L631.74,351.28 L630.58,349.62 L629.42,348.04 L628.26,346.53 L627.10,345.10 L625.94,343.76 L624.78,342.48 L623.62,341.28 L622.46,340.16 L621.30,339.11 L620.14,338.13 L618.98,337.22 L617.82,336.38 L616.66,335.60 L615.50,334.90 L614.34,334.26 L613.18,333.69 L612.03,333.19 L610.87,332.74 L609.71,332.36 L608.55,332.04 L607.39,331.78 L606.23,331.59 L605.07,331.45 L603.91,331.36 L602.75,331.34 L601.59,331.36 L600.43,331.45 L599.27,331.58 L598.11,331.77 L596.95,332.01 L595.79,332.30 L594.63,332.64 L593.47,333.03 L592.31,333.47 L591.15,333.95 L589.99,334.48 L588.83,335.06 L587.67,335.69 L586.51,336.36 L585.35,337.07 L584.19,337.83 L583.03,338.64 L581.87,339.49 L580.71,340.39 L579.55,341.33 L578.39,342.31 L577.23,343.33 L576.07,344.40 L574.91,345.51 L573.75,346.66 L572.59,347.85 L571.43,349.08 L570.27,350.35 L569.11,351.65 L567.95,352.98 L566.79,354.35 L565.64,355.76 L564.48,357.19 L563.32,358.65 L562.16,360.13 L561.00,361.63 L559.84,363.11 L558.68,364.58 L557.52,366.02 L556.36,367.42 L555.20,368.76 L554.04,370.03 L552.88,371.24 L551.72,372.40 L550.56,373.52 L549.40,374.62 L548.24,375.71 L547.08,376.79 L545.92,377.87 L544.76,378.95 L543.60,380.02 L542.44,381.09 L541.28,382.14 L540.12,383.19 L538.96,384.22 L537.80,385.25 L536.64,386.27 L535.48,387.27 L534.32,388.25 L533.16,389.23 L532.00,390.18 L530.84,391.12 L529.68,392.05 L528.52,392.95 L527.36,393.83 L526.20,394.70 L525.04,395.54 L523.88,396.36 L522.72,397.16 L521.56,397.93 L520.40,398.69 L519.25,399.42 L518.09,400.14 L516.93,400.83 L515.77,401.50 L514.61,402.16 L513.45,402.79 L512.29,403.41 L511.13,404.00 L509.97,404.58 L508.81,405.14 L507.65,405.69 L506.49,406.21 L505.33,406.72 L504.17,407.21 L503.01,407.69 L501.85,408.15 L500.69,408.59 L499.53,409.02 L498.37,409.44 L497.21,409.84 L496.05,410.22 L494.89,410.59 L493.73,410.95 L492.57,411.30 L491.41,411.63 L490.25,411.95 L489.09,412.25 L487.93,412.55 L486.77,412.83 L485.61,413.10 L484.45,413.36 L483.29,413.62 L482.13,413.85 L480.97,414.08 L479.81,414.31 L478.65,414.52 L477.49,414.72 L476.33,414.91 L475.17,415.10 L474.01,415.27 L472.86,415.44 L471.70,415.61 L470.54,415.76 L469.38,415.91 L468.22,416.05 L467.06,416.19 L465.90,416.32 L464.74,416.44 L463.58,416.56 L462.42,416.68 L461.26,416.79 L460.10,416.90 L458.94,417.00 L457.78,417.10 L456.62,417.20 L455.46,417.29 L454.30,417.38 L453.14,417.47 L451.98,417.56 L450.82,417.65 Z" fill="#1B9E77" fill-opacity="0.35"/>
<path d="M450.40,412.12 L451.56,411.90 L452.72,411.68 L453.88,411.46 L455.04,411.23 L456.20,410.99 L457.36,410.74 L458.53,410.49 L459.69,410.24 L460.85,409.97 L462.01,409.71 L463.17,409.43 L464.33,409.15 L465.49,408.86 L466.65,408.56 L467.81,408.26 L468.97,407.95 L470.13,407.63 L471.29,407.30 L472.46,406.97 L473.62,406.62 L474.78,406.27 L475.94,405.91 L477.10,405.55 L478.26,405.17 L479.42,404.78 L480.58,404.39 L481.74,403.99 L482.90,403.57 L484.06,403.15 L485.22,402.72 L486.38,402.27 L487.55,401.82 L488.71,401.36 L489.87,400.88 L491.03,400.40 L492.19,399.90 L493.35,399.39 L494.51,398.87 L495.67,398.34 L496.83,397.80 L497.99,397.25 L499.15,396.68 L500.31,396.10 L501.48,395.51 L502.64,394.91 L503.80,394.29 L504.96,393.66 L506.12,393.02 L507.28,392.36 L508.44,391.69 L509.60,391.01 L510.76,390.31 L511.92,389.60 L513.08,388.87 L514.24,388.13 L515.41,387.37 L516.57,386.60 L517.73,385.82 L518.89,385.02 L520.05,384.21 L521.21,383.38 L522.37,382.53 L523.53,381.67 L524.69,380.80 L525.85,379.91 L527.01,379.00 L528.17,378.08 L529.33,377.14 L530.50,376.19 L531.66,375.22 L532.82,374.24 L533.98,373.24 L535.14,372.23 L536.30,371.21 L537.46,370.16 L538.62,369.11 L539.78,368.04 L540.94,366.95 L542.10,365.85 L543.26,364.74 L544.43,363.62 L545.59,362.48 L546.75,361.33 L547.91,360.17 L549.07,359.00 L550.23,357.81 L551.39,356.62 L552.55,355.41 L553.71,354.20 L554.87,352.98 L556.03,351.75 L557.19,350.52 L558.35,349.28 L559.52,348.03 L560.68,346.78 L561.84,345.53 L563.00,344.28 L564.16,343.02 L565.32,341.77 L566.48,340.52 L567.64,339.27 L568.80,338.03 L569.96,336.79 L571.12,335.56 L572.28,334.34 L573.45,333.13 L574.61,331.93 L575.77,330.75 L576.93,329.58 L578.09,328.44 L579.25,327.31 L580.41,326.20 L581.57,325.12 L582.73,324.07 L583.89,323.04 L585.05,322.05 L586.21,321.09 L587.37,320.16 L588.54,319.27 L589.70,318.42 L590.86,317.62 L592.02,316.86 L593.18,316.15 L594.34,315.48 L595.50,314.87 L596.66,314.32 L597.82,313.82 L598.98,313.39 L600.14,313.02 L601.30,312.71 L602.47,312.47 L603.63,312.30 L604.79,312.20 L605.95,312.17 L607.11,312.22 L608.27,312.35 L609.43,312.56 L610.59,312.85 L611.75,313.22 L612.91,313.68 L614.07,314.22 L615.23,314.85 L616.39,315.57 L617.56,316.38 L618.72,317.27 L619.88,318.25 L621.04,319.32 L622.20,320.48 L623.36,321.73 L624.52,323.06 L625.68,324.47 L626.84,325.97 L628.00,327.56 L629.16,329.22 L630.32,330.96 L631.49,332.77 L632.65,334.65 L633.81,336.60 L634.97,338.62 L636.13,340.70 L637.29,342.83 L638.45,345.01 L639.61,347.24 L640.77,349.51 L641.93,351.82 L643.09,354.16 L644.25,356.52 L645.42,358.90 L646.58,361.30 L647.74,363.70 L648.90,366.11 L650.06,368.51 L651.22,370.90 L652.38,373.27 L653.54,375.62 L654.70,377.94 L655.86,380.22 L657.02,382.47 L658.18,384.67 L659.34,386.82 L660.51,388.92 L661.67,390.96 L662.83,392.93 L663.99,394.84 L665.15,396.68 L666.31,398.44 L667.47,400.13 L668.63,401.75 L669.79,403.28 L670.95,404.74 L672.11,406.11 L673.27,407.41 L674.44,408.63 L675.60,409.77 L676.76,410.83 L677.92,411.82 L679.08,412.73 L680.24,413.57 L681.40,414.34" fill="none" stroke="#1B9E77" stroke-width="1.1" stroke-opacity="1" stroke-linejoin="round"/>
<circle cx="450.40" cy="411.38" r="2.5" fill="#000"/>
<circle cx="471.40" cy="402.09" r="2.5" fill="#000"/>
<circle cx="492.40" cy="394.28" r="2.5" fill="#000"/>
<circle cx="513.40" cy="389.50" r="2.5" fill="#000"/>
<circle cx="534.40" cy="363.98" r="2.5" fill="#000"/>
<circle cx="555.40" cy="340.28" r="2.5" fill="#000"/>
<circle cx="576.40" cy="355.90" r="2.5" fill="#000"/>
<circle cx="597.40" cy="311.33" r="2.5" fill="#000"/>
<circle cx="618.40" cy="321.09" r="2.5" fill="#000"/>
<circle cx="639.40" cy="320.28" r="2.5" fill="#000"/>
<circle cx="660.40" cy="418.38" r="2.5" fill="#000"/>
<circle cx="681.40" cy="407.81" r="2.5" fill="#000"/>
</svg>
</body></html>
